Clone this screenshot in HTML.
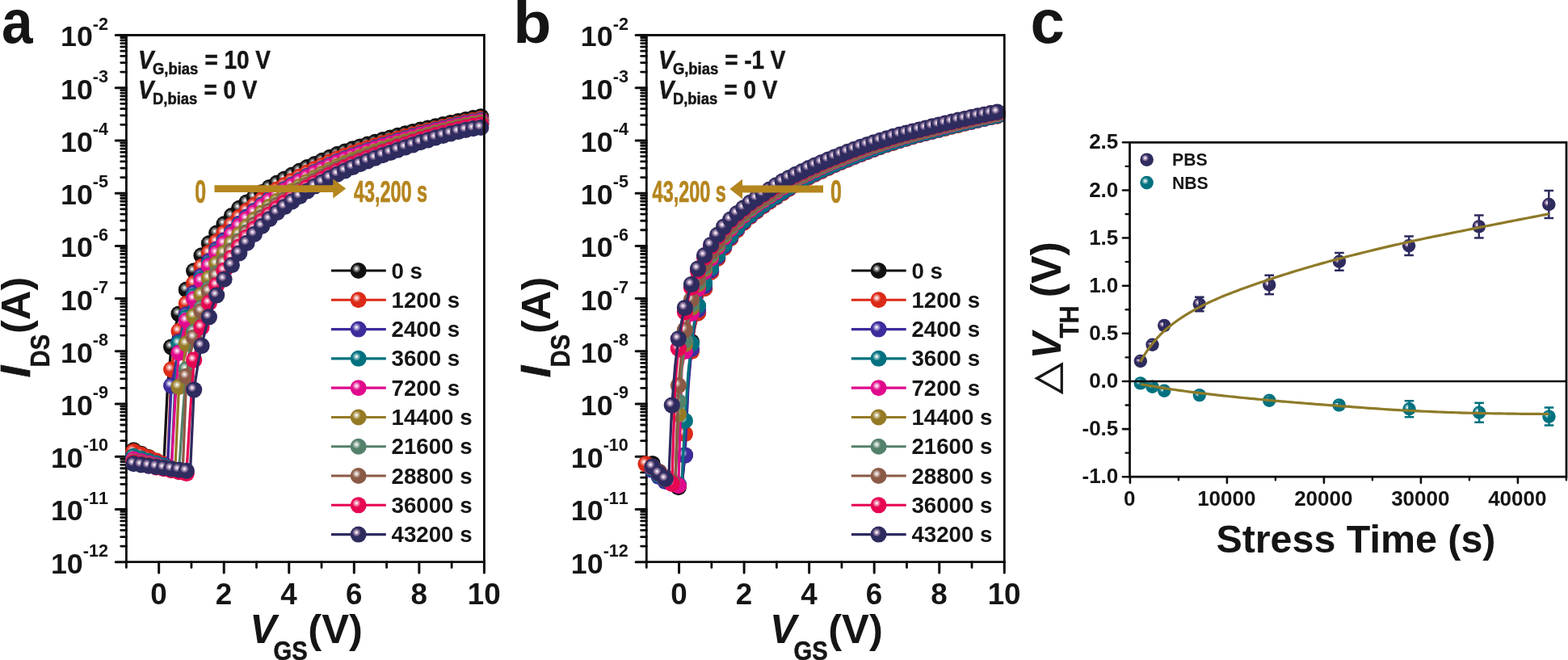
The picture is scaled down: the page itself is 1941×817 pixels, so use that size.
<!DOCTYPE html>
<html><head><meta charset="utf-8"><title>Figure</title>
<style>html,body{margin:0;padding:0;background:#fff}svg{display:block}</style></head>
<body>
<svg width="1941" height="817" viewBox="0 0 1941 817" font-family="'Liberation Sans', sans-serif" font-weight="bold">
<rect width="1941" height="817" fill="#fff"/>
<defs>
<radialGradient id="g0" cx="0.38" cy="0.375" r="0.265" fx="0.38" fy="0.375"><stop offset="0" stop-color="#fff"/><stop offset="0.12" stop-color="#eeeeee"/><stop offset="0.42" stop-color="#9b9b9b"/><stop offset="0.76" stop-color="#4c4c4c"/><stop offset="1" stop-color="#111111"/></radialGradient>
<radialGradient id="g1" cx="0.38" cy="0.375" r="0.265" fx="0.38" fy="0.375"><stop offset="0" stop-color="#fff"/><stop offset="0.12" stop-color="#fdf0ef"/><stop offset="0.42" stop-color="#f0a69e"/><stop offset="0.76" stop-color="#e55f52"/><stop offset="1" stop-color="#DC2A18"/></radialGradient>
<radialGradient id="g2" cx="0.38" cy="0.375" r="0.265" fx="0.38" fy="0.375"><stop offset="0" stop-color="#fff"/><stop offset="0.12" stop-color="#f1f0f8"/><stop offset="0.42" stop-color="#ada6d5"/><stop offset="0.76" stop-color="#6d61b5"/><stop offset="1" stop-color="#3C2C9C"/></radialGradient>
<radialGradient id="g3" cx="0.38" cy="0.375" r="0.265" fx="0.38" fy="0.375"><stop offset="0" stop-color="#fff"/><stop offset="0.12" stop-color="#edf5f6"/><stop offset="0.42" stop-color="#94c3c9"/><stop offset="0.76" stop-color="#40949f"/><stop offset="1" stop-color="#00717F"/></radialGradient>
<radialGradient id="g4" cx="0.38" cy="0.375" r="0.265" fx="0.38" fy="0.375"><stop offset="0" stop-color="#fff"/><stop offset="0.12" stop-color="#fdeef7"/><stop offset="0.42" stop-color="#f298cf"/><stop offset="0.76" stop-color="#e847a9"/><stop offset="1" stop-color="#E00A8C"/></radialGradient>
<radialGradient id="g5" cx="0.38" cy="0.375" r="0.265" fx="0.38" fy="0.375"><stop offset="0" stop-color="#fff"/><stop offset="0.12" stop-color="#f8f6f0"/><stop offset="0.42" stop-color="#d2c7a4"/><stop offset="0.76" stop-color="#b09b5c"/><stop offset="1" stop-color="#957A26"/></radialGradient>
<radialGradient id="g6" cx="0.38" cy="0.375" r="0.265" fx="0.38" fy="0.375"><stop offset="0" stop-color="#fff"/><stop offset="0.12" stop-color="#f3f6f5"/><stop offset="0.42" stop-color="#b7cac0"/><stop offset="0.76" stop-color="#7fa08f"/><stop offset="1" stop-color="#54816A"/></radialGradient>
<radialGradient id="g7" cx="0.38" cy="0.375" r="0.265" fx="0.38" fy="0.375"><stop offset="0" stop-color="#fff"/><stop offset="0.12" stop-color="#f7f3f2"/><stop offset="0.42" stop-color="#cebab1"/><stop offset="0.76" stop-color="#a88374"/><stop offset="1" stop-color="#8B5A46"/></radialGradient>
<radialGradient id="g8" cx="0.38" cy="0.375" r="0.265" fx="0.38" fy="0.375"><stop offset="0" stop-color="#fff"/><stop offset="0.12" stop-color="#fdeef3"/><stop offset="0.42" stop-color="#f496b6"/><stop offset="0.76" stop-color="#ec447d"/><stop offset="1" stop-color="#E60652"/></radialGradient>
<radialGradient id="g9" cx="0.38" cy="0.375" r="0.265" fx="0.38" fy="0.375"><stop offset="0" stop-color="#fff"/><stop offset="0.12" stop-color="#f4eef5"/><stop offset="0.42" stop-color="#b59ebd"/><stop offset="0.76" stop-color="#6c5a88"/><stop offset="1" stop-color="#2E2B5E"/></radialGradient>
<radialGradient id="g10" cx="0.38" cy="0.375" r="0.265" fx="0.38" fy="0.375"><stop offset="0" stop-color="#fff"/><stop offset="0.12" stop-color="#f4eef5"/><stop offset="0.42" stop-color="#b59ebd"/><stop offset="0.76" stop-color="#6c5a88"/><stop offset="1" stop-color="#2E2B5E"/></radialGradient>
<radialGradient id="g11" cx="0.38" cy="0.375" r="0.265" fx="0.38" fy="0.375"><stop offset="0" stop-color="#fff"/><stop offset="0.12" stop-color="#edf5f6"/><stop offset="0.42" stop-color="#94c3c9"/><stop offset="0.76" stop-color="#40949f"/><stop offset="1" stop-color="#00717F"/></radialGradient>
</defs>
<g fill="#141514">
<path d="M156.4 42.1V695.7H600.8" fill="none" stroke="#0d0d0d" stroke-width="2.8" stroke-linejoin="miter"/>
<path d="M143.2 43.5H156.4M143.2 108.72H156.4M143.2 173.94H156.4M143.2 239.16H156.4M143.2 304.38H156.4M143.2 369.6H156.4M143.2 434.82H156.4M143.2 500.04H156.4M143.2 565.26H156.4M143.2 630.48H156.4M143.2 695.7H156.4M196.67 695.7V709.1M277.22 695.7V709.1M357.76 695.7V709.1M438.31 695.7V709.1M518.85 695.7V709.1M599.4 695.7V709.1" stroke="#0d0d0d" stroke-width="3" stroke-linecap="round" fill="none"/>
<path d="M149.7 89.09H156.4M149.7 77.6H156.4M149.7 69.45H156.4M149.7 63.13H156.4M149.7 57.97H156.4M149.7 53.6H156.4M149.7 49.82H156.4M149.7 46.48H156.4M149.7 154.31H156.4M149.7 142.82H156.4M149.7 134.67H156.4M149.7 128.35H156.4M149.7 123.19H156.4M149.7 118.82H156.4M149.7 115.04H156.4M149.7 111.7H156.4M149.7 219.53H156.4M149.7 208.04H156.4M149.7 199.89H156.4M149.7 193.57H156.4M149.7 188.41H156.4M149.7 184.04H156.4M149.7 180.26H156.4M149.7 176.92H156.4M149.7 284.75H156.4M149.7 273.26H156.4M149.7 265.11H156.4M149.7 258.79H156.4M149.7 253.63H156.4M149.7 249.26H156.4M149.7 245.48H156.4M149.7 242.14H156.4M149.7 349.97H156.4M149.7 338.48H156.4M149.7 330.33H156.4M149.7 324.01H156.4M149.7 318.85H156.4M149.7 314.48H156.4M149.7 310.7H156.4M149.7 307.36H156.4M149.7 415.19H156.4M149.7 403.7H156.4M149.7 395.55H156.4M149.7 389.23H156.4M149.7 384.07H156.4M149.7 379.7H156.4M149.7 375.92H156.4M149.7 372.58H156.4M149.7 480.41H156.4M149.7 468.92H156.4M149.7 460.77H156.4M149.7 454.45H156.4M149.7 449.29H156.4M149.7 444.92H156.4M149.7 441.14H156.4M149.7 437.8H156.4M149.7 545.63H156.4M149.7 534.14H156.4M149.7 525.99H156.4M149.7 519.67H156.4M149.7 514.51H156.4M149.7 510.14H156.4M149.7 506.36H156.4M149.7 503.02H156.4M149.7 610.85H156.4M149.7 599.36H156.4M149.7 591.21H156.4M149.7 584.89H156.4M149.7 579.73H156.4M149.7 575.36H156.4M149.7 571.58H156.4M149.7 568.24H156.4M149.7 676.07H156.4M149.7 664.58H156.4M149.7 656.43H156.4M149.7 650.11H156.4M149.7 644.95H156.4M149.7 640.58H156.4M149.7 636.8H156.4M149.7 633.46H156.4M156.4 695.7V702.5M236.95 695.7V702.5M317.49 695.7V702.5M398.04 695.7V702.5M478.58 695.7V702.5M559.13 695.7V702.5" stroke="#0d0d0d" stroke-width="2.8" stroke-linecap="round" fill="none"/>
<polyline points="165.4,557.4 170.07,559.6 174.75,561.8 179.42,564 184.09,566.2 188.76,568.4 193.44,570.6 198.11,572.8 202.78,575 207.45,478 212.12,429.5 216.8,405.88 221.47,388.5 226.14,372.55 230.81,358.7 235.49,346.4 240.16,335.4 244.83,325.32 249.5,316.3 254.18,308.48 258.85,301.4 263.52,294.77 268.19,288.6 272.87,282.84 277.54,277.4 282.21,272.19 286.88,267.2 291.56,262.3 296.23,257.8 300.9,253.98 305.58,250.5 310.25,247.17 314.92,244 319.59,240.97 324.26,238 328.94,234.96 333.61,232 338.28,229.25 342.96,226.6 347.63,224.02 352.3,221.5 356.97,219.04 361.64,216.6 366.32,214.12 370.99,211.7 375.66,209.4 380.34,207.2 385.01,205.13 389.68,203.1 394.35,201 399.03,198.9 403.7,196.83 408.37,194.8 413.04,192.8 417.72,190.9 422.39,189.21 427.06,187.6 431.73,185.97 436.4,184.4 441.08,182.93 445.75,181.5 450.42,180.09 455.1,178.7 459.77,177.29 464.44,175.9 469.11,174.54 473.79,173.2 478.46,171.84 483.13,170.5 487.8,169.19 492.48,167.9 497.15,166.64 501.82,165.4 506.49,164.19 511.17,163 515.84,161.84 520.51,160.7 525.18,159.59 529.86,158.5 534.53,157.39 539.2,156.3 543.87,155.24 548.55,154.2 553.22,153.14 557.89,152.1 562.56,151.09 567.24,150.1 571.91,149.09 576.58,148.1 581.25,147.14 585.93,146.2 590.6,145.24 595.27,144.3" fill="none" stroke="#111111" stroke-width="3.3" stroke-linejoin="round"/>
<g fill="url(#g0)"><circle cx="165.4" cy="557.4" r="10.1"/><circle cx="174.75" cy="561.8" r="10.1"/><circle cx="184.09" cy="566.2" r="10.1"/><circle cx="193.44" cy="570.6" r="10.1"/><circle cx="202.78" cy="575" r="10.1"/><circle cx="212.12" cy="429.5" r="10.1"/><circle cx="221.47" cy="388.5" r="10.1"/><circle cx="230.81" cy="358.7" r="10.1"/><circle cx="240.16" cy="335.4" r="10.1"/><circle cx="249.5" cy="316.3" r="10.1"/><circle cx="258.85" cy="301.4" r="10.1"/><circle cx="268.19" cy="288.6" r="10.1"/><circle cx="277.54" cy="277.4" r="10.1"/><circle cx="286.88" cy="267.2" r="10.1"/><circle cx="296.23" cy="257.8" r="10.1"/><circle cx="305.58" cy="250.5" r="10.1"/><circle cx="314.92" cy="244" r="10.1"/><circle cx="324.26" cy="238" r="10.1"/><circle cx="333.61" cy="232" r="10.1"/><circle cx="342.96" cy="226.6" r="10.1"/><circle cx="352.3" cy="221.5" r="10.1"/><circle cx="361.64" cy="216.6" r="10.1"/><circle cx="370.99" cy="211.7" r="10.1"/><circle cx="380.34" cy="207.2" r="10.1"/><circle cx="389.68" cy="203.1" r="10.1"/><circle cx="399.03" cy="198.9" r="10.1"/><circle cx="408.37" cy="194.8" r="10.1"/><circle cx="417.72" cy="190.9" r="10.1"/><circle cx="427.06" cy="187.6" r="10.1"/><circle cx="436.4" cy="184.4" r="10.1"/><circle cx="445.75" cy="181.5" r="10.1"/><circle cx="455.1" cy="178.7" r="10.1"/><circle cx="464.44" cy="175.9" r="10.1"/><circle cx="473.79" cy="173.2" r="10.1"/><circle cx="483.13" cy="170.5" r="10.1"/><circle cx="492.48" cy="167.9" r="10.1"/><circle cx="501.82" cy="165.4" r="10.1"/><circle cx="511.17" cy="163" r="10.1"/><circle cx="520.51" cy="160.7" r="10.1"/><circle cx="529.86" cy="158.5" r="10.1"/><circle cx="539.2" cy="156.3" r="10.1"/><circle cx="548.55" cy="154.2" r="10.1"/><circle cx="557.89" cy="152.1" r="10.1"/><circle cx="567.24" cy="150.1" r="10.1"/><circle cx="576.58" cy="148.1" r="10.1"/><circle cx="585.93" cy="146.2" r="10.1"/><circle cx="595.27" cy="144.3" r="10.1"/></g>
<polyline points="165.4,558.9 170.07,560.86 174.75,562.81 179.42,564.77 184.09,566.72 188.76,568.68 193.44,570.63 198.11,572.59 202.78,574.54 207.45,576.5 212.12,457.4 216.8,429.94 221.47,409.8 226.14,391.2 230.81,375.85 235.49,362.46 240.16,350.63 244.83,339.93 249.5,330.08 254.18,321.06 258.85,313.05 263.52,305.93 268.19,299.33 272.87,293.71 277.54,288.36 282.21,283.23 286.88,278.29 291.56,273.47 296.23,268.84 300.9,264.65 305.58,260.87 310.25,257.38 314.92,254.08 319.59,250.58 324.26,247.2 328.94,243.85 333.61,240.62 338.28,237.58 342.96,234.65 347.63,231.83 352.3,229.09 356.97,226.42 361.64,223.79 366.32,221.17 370.99,218.59 375.66,216.07 380.34,213.65 385.01,211.35 389.68,209.13 394.35,206.93 399.03,204.75 403.7,202.55 408.37,200.39 413.04,198.31 417.72,196.35 422.39,194.56 427.06,192.84 431.73,191.1 436.4,189.41 441.08,187.83 445.75,186.3 450.42,184.78 455.1,183.28 459.77,181.78 464.44,180.29 469.11,178.85 473.79,177.42 478.46,176.03 483.13,174.64 487.8,173.25 492.48,171.87 497.15,170.54 501.82,169.22 506.49,167.94 511.17,166.68 515.84,165.43 520.51,164.2 525.18,163.02 529.86,161.85 534.53,160.67 539.2,159.5 543.87,158.39 548.55,157.29 553.22,156.19 557.89,155.11 562.56,154.07 567.24,153.05 571.91,152.01 576.58,151.01 581.25,150.07 585.93,149.16 590.6,148.28 595.27,147.43" fill="none" stroke="#DC2A18" stroke-width="3.3" stroke-linejoin="round"/>
<g fill="url(#g1)"><circle cx="165.4" cy="558.9" r="10.1"/><circle cx="174.75" cy="562.81" r="10.1"/><circle cx="184.09" cy="566.72" r="10.1"/><circle cx="193.44" cy="570.63" r="10.1"/><circle cx="202.78" cy="574.54" r="10.1"/><circle cx="212.12" cy="457.4" r="10.1"/><circle cx="221.47" cy="409.8" r="10.1"/><circle cx="230.81" cy="375.85" r="10.1"/><circle cx="240.16" cy="350.63" r="10.1"/><circle cx="249.5" cy="330.08" r="10.1"/><circle cx="258.85" cy="313.05" r="10.1"/><circle cx="268.19" cy="299.33" r="10.1"/><circle cx="277.54" cy="288.36" r="10.1"/><circle cx="286.88" cy="278.29" r="10.1"/><circle cx="296.23" cy="268.84" r="10.1"/><circle cx="305.58" cy="260.87" r="10.1"/><circle cx="314.92" cy="254.08" r="10.1"/><circle cx="324.26" cy="247.2" r="10.1"/><circle cx="333.61" cy="240.62" r="10.1"/><circle cx="342.96" cy="234.65" r="10.1"/><circle cx="352.3" cy="229.09" r="10.1"/><circle cx="361.64" cy="223.79" r="10.1"/><circle cx="370.99" cy="218.59" r="10.1"/><circle cx="380.34" cy="213.65" r="10.1"/><circle cx="389.68" cy="209.13" r="10.1"/><circle cx="399.03" cy="204.75" r="10.1"/><circle cx="408.37" cy="200.39" r="10.1"/><circle cx="417.72" cy="196.35" r="10.1"/><circle cx="427.06" cy="192.84" r="10.1"/><circle cx="436.4" cy="189.41" r="10.1"/><circle cx="445.75" cy="186.3" r="10.1"/><circle cx="455.1" cy="183.28" r="10.1"/><circle cx="464.44" cy="180.29" r="10.1"/><circle cx="473.79" cy="177.42" r="10.1"/><circle cx="483.13" cy="174.64" r="10.1"/><circle cx="492.48" cy="171.87" r="10.1"/><circle cx="501.82" cy="169.22" r="10.1"/><circle cx="511.17" cy="166.68" r="10.1"/><circle cx="520.51" cy="164.2" r="10.1"/><circle cx="529.86" cy="161.85" r="10.1"/><circle cx="539.2" cy="159.5" r="10.1"/><circle cx="548.55" cy="157.29" r="10.1"/><circle cx="557.89" cy="155.11" r="10.1"/><circle cx="567.24" cy="153.05" r="10.1"/><circle cx="576.58" cy="151.01" r="10.1"/><circle cx="585.93" cy="149.16" r="10.1"/><circle cx="595.27" cy="147.43" r="10.1"/></g>
<polyline points="165.4,565.6 170.07,566.92 174.75,568.24 179.42,569.57 184.09,570.89 188.76,572.21 193.44,573.53 198.11,574.86 202.78,576.18 207.45,577.5 212.12,477.4 216.8,456.47 221.47,423 226.14,404.49 230.81,389.24 235.49,375.07 240.16,362.61 244.83,351.59 249.5,341.51 254.18,332.12 258.85,323.47 263.52,315.62 268.19,308.61 272.87,302.89 277.54,297.37 282.21,292.02 286.88,286.81 291.56,281.75 296.23,276.92 300.9,272.49 305.58,268.32 310.25,264.41 314.92,260.76 319.59,256.96 324.26,253.3 328.94,249.75 333.61,246.35 338.28,243.1 342.96,240 347.63,237.01 352.3,234.13 356.97,231.32 361.64,228.57 366.32,225.84 370.99,223.16 375.66,220.5 380.34,217.92 385.01,215.48 389.68,213.13 394.35,210.87 399.03,208.64 403.7,206.34 408.37,204.1 413.04,201.94 417.72,199.9 422.39,198.01 427.06,196.19 431.73,194.34 436.4,192.55 441.08,190.87 445.75,189.25 450.42,187.64 455.1,186.05 459.77,184.46 464.44,182.9 469.11,181.37 473.79,179.88 478.46,178.44 483.13,177 487.8,175.54 492.48,174.09 497.15,172.69 501.82,171.32 506.49,169.97 511.17,168.64 515.84,167.33 520.51,166.04 525.18,164.8 529.86,163.57 534.53,162.33 539.2,161.11 543.87,159.95 548.55,158.81 553.22,157.67 557.89,156.55 562.56,155.48 567.24,154.43 571.91,153.36 576.58,152.34 581.25,151.38 585.93,150.48 590.6,149.62 595.27,148.79" fill="none" stroke="#3C2C9C" stroke-width="3.3" stroke-linejoin="round"/>
<g fill="url(#g2)"><circle cx="165.4" cy="565.6" r="10.1"/><circle cx="174.75" cy="568.24" r="10.1"/><circle cx="184.09" cy="570.89" r="10.1"/><circle cx="193.44" cy="573.53" r="10.1"/><circle cx="202.78" cy="576.18" r="10.1"/><circle cx="212.12" cy="477.4" r="10.1"/><circle cx="221.47" cy="423" r="10.1"/><circle cx="230.81" cy="389.24" r="10.1"/><circle cx="240.16" cy="362.61" r="10.1"/><circle cx="249.5" cy="341.51" r="10.1"/><circle cx="258.85" cy="323.47" r="10.1"/><circle cx="268.19" cy="308.61" r="10.1"/><circle cx="277.54" cy="297.37" r="10.1"/><circle cx="286.88" cy="286.81" r="10.1"/><circle cx="296.23" cy="276.92" r="10.1"/><circle cx="305.58" cy="268.32" r="10.1"/><circle cx="314.92" cy="260.76" r="10.1"/><circle cx="324.26" cy="253.3" r="10.1"/><circle cx="333.61" cy="246.35" r="10.1"/><circle cx="342.96" cy="240" r="10.1"/><circle cx="352.3" cy="234.13" r="10.1"/><circle cx="361.64" cy="228.57" r="10.1"/><circle cx="370.99" cy="223.16" r="10.1"/><circle cx="380.34" cy="217.92" r="10.1"/><circle cx="389.68" cy="213.13" r="10.1"/><circle cx="399.03" cy="208.64" r="10.1"/><circle cx="408.37" cy="204.1" r="10.1"/><circle cx="417.72" cy="199.9" r="10.1"/><circle cx="427.06" cy="196.19" r="10.1"/><circle cx="436.4" cy="192.55" r="10.1"/><circle cx="445.75" cy="189.25" r="10.1"/><circle cx="455.1" cy="186.05" r="10.1"/><circle cx="464.44" cy="182.9" r="10.1"/><circle cx="473.79" cy="179.88" r="10.1"/><circle cx="483.13" cy="177" r="10.1"/><circle cx="492.48" cy="174.09" r="10.1"/><circle cx="501.82" cy="171.32" r="10.1"/><circle cx="511.17" cy="168.64" r="10.1"/><circle cx="520.51" cy="166.04" r="10.1"/><circle cx="529.86" cy="163.57" r="10.1"/><circle cx="539.2" cy="161.11" r="10.1"/><circle cx="548.55" cy="158.81" r="10.1"/><circle cx="557.89" cy="156.55" r="10.1"/><circle cx="567.24" cy="154.43" r="10.1"/><circle cx="576.58" cy="152.34" r="10.1"/><circle cx="585.93" cy="150.48" r="10.1"/><circle cx="595.27" cy="148.79" r="10.1"/></g>
<polyline points="165.4,564.8 170.07,566.32 174.75,567.84 179.42,569.36 184.09,570.88 188.76,572.4 193.44,573.92 198.11,575.44 202.78,576.96 207.45,578.48 212.12,580 216.8,478 221.47,425 226.14,408.41 230.81,393.2 235.49,379.08 240.16,366.49 244.83,355.37 249.5,345.31 254.18,335.91 258.85,327.17 263.52,319.16 268.19,311.95 272.87,306.04 277.54,300.37 282.21,294.85 286.88,289.47 291.56,284.22 296.23,279.21 300.9,274.61 305.58,270.29 310.25,266.17 314.92,262.32 319.59,258.44 324.26,254.72 328.94,251.13 333.61,247.68 338.28,244.39 342.96,241.24 347.63,238.22 352.3,235.3 356.97,232.46 361.64,229.68 366.32,226.93 370.99,224.22 375.66,221.53 380.34,218.92 385.01,216.44 389.68,214.06 394.35,211.78 399.03,209.54 403.7,207.23 408.37,204.96 413.04,202.8 417.72,200.74 422.39,198.84 427.06,197.01 431.73,195.15 436.4,193.34 441.08,191.65 445.75,190.01 450.42,188.39 455.1,186.79 459.77,185.18 464.44,183.6 469.11,182.06 473.79,180.56 478.46,179.11 483.13,177.68 487.8,176.2 492.48,174.74 497.15,173.33 501.82,171.94 506.49,170.59 511.17,169.25 515.84,167.92 520.51,166.62 525.18,165.37 529.86,164.13 534.53,162.88 539.2,161.64 543.87,160.48 548.55,159.33 553.22,158.19 557.89,157.06 562.56,155.99 567.24,154.93 571.91,153.86 576.58,152.84 581.25,151.89 585.93,150.99 590.6,150.15 595.27,149.33" fill="none" stroke="#00717F" stroke-width="3.3" stroke-linejoin="round"/>
<g fill="url(#g3)"><circle cx="165.4" cy="564.8" r="10.1"/><circle cx="174.75" cy="567.84" r="10.1"/><circle cx="184.09" cy="570.88" r="10.1"/><circle cx="193.44" cy="573.92" r="10.1"/><circle cx="202.78" cy="576.96" r="10.1"/><circle cx="212.12" cy="580" r="10.1"/><circle cx="221.47" cy="425" r="10.1"/><circle cx="230.81" cy="393.2" r="10.1"/><circle cx="240.16" cy="366.49" r="10.1"/><circle cx="249.5" cy="345.31" r="10.1"/><circle cx="258.85" cy="327.17" r="10.1"/><circle cx="268.19" cy="311.95" r="10.1"/><circle cx="277.54" cy="300.37" r="10.1"/><circle cx="286.88" cy="289.47" r="10.1"/><circle cx="296.23" cy="279.21" r="10.1"/><circle cx="305.58" cy="270.29" r="10.1"/><circle cx="314.92" cy="262.32" r="10.1"/><circle cx="324.26" cy="254.72" r="10.1"/><circle cx="333.61" cy="247.68" r="10.1"/><circle cx="342.96" cy="241.24" r="10.1"/><circle cx="352.3" cy="235.3" r="10.1"/><circle cx="361.64" cy="229.68" r="10.1"/><circle cx="370.99" cy="224.22" r="10.1"/><circle cx="380.34" cy="218.92" r="10.1"/><circle cx="389.68" cy="214.06" r="10.1"/><circle cx="399.03" cy="209.54" r="10.1"/><circle cx="408.37" cy="204.96" r="10.1"/><circle cx="417.72" cy="200.74" r="10.1"/><circle cx="427.06" cy="197.01" r="10.1"/><circle cx="436.4" cy="193.34" r="10.1"/><circle cx="445.75" cy="190.01" r="10.1"/><circle cx="455.1" cy="186.79" r="10.1"/><circle cx="464.44" cy="183.6" r="10.1"/><circle cx="473.79" cy="180.56" r="10.1"/><circle cx="483.13" cy="177.68" r="10.1"/><circle cx="492.48" cy="174.74" r="10.1"/><circle cx="501.82" cy="171.94" r="10.1"/><circle cx="511.17" cy="169.25" r="10.1"/><circle cx="520.51" cy="166.62" r="10.1"/><circle cx="529.86" cy="164.13" r="10.1"/><circle cx="539.2" cy="161.64" r="10.1"/><circle cx="548.55" cy="159.33" r="10.1"/><circle cx="557.89" cy="157.06" r="10.1"/><circle cx="567.24" cy="154.93" r="10.1"/><circle cx="576.58" cy="152.84" r="10.1"/><circle cx="585.93" cy="150.99" r="10.1"/><circle cx="595.27" cy="149.33" r="10.1"/></g>
<polyline points="165.4,568.7 170.07,569.93 174.75,571.16 179.42,572.39 184.09,573.62 188.76,574.85 193.44,576.08 198.11,577.31 202.78,578.54 207.45,579.77 212.12,581 216.8,496 221.47,436.8 226.14,414.92 230.81,396.9 235.49,383.43 240.16,370.05 244.83,358.32 249.5,347.88 254.18,338.16 258.85,329.11 263.52,320.82 268.19,313.33 272.87,307.21 277.54,301.41 282.21,295.78 286.88,290.32 291.56,285 296.23,279.95 300.9,275.33 305.58,270.99 310.25,266.87 314.92,263.01 319.59,259.1 324.26,255.35 328.94,251.73 333.61,248.27 338.28,244.96 342.96,241.79 347.63,238.75 352.3,235.82 356.97,232.96 361.64,230.17 366.32,227.41 370.99,224.69 375.66,221.99 380.34,219.36 385.01,216.86 389.68,214.47 394.35,212.19 399.03,209.94 403.7,207.62 408.37,205.34 413.04,203.19 417.72,201.16 422.39,199.27 427.06,197.45 431.73,195.6 436.4,193.8 441.08,192.11 445.75,190.49 450.42,188.87 455.1,187.27 459.77,185.68 464.44,184.11 469.11,182.57 473.79,181.08 478.46,179.64 483.13,178.21 487.8,176.75 492.48,175.29 497.15,173.88 501.82,172.5 506.49,171.14 511.17,169.81 515.84,168.48 520.51,167.18 525.18,165.93 529.86,164.69 534.53,163.43 539.2,162.2 543.87,161.03 548.55,159.9 553.22,158.75 557.89,157.63 562.56,156.56 567.24,155.51 571.91,154.45 576.58,153.43 581.25,152.49 585.93,151.61 590.6,150.8 595.27,150.01" fill="none" stroke="#E00A8C" stroke-width="3.3" stroke-linejoin="round"/>
<g fill="url(#g4)"><circle cx="165.4" cy="568.7" r="10.1"/><circle cx="174.75" cy="571.16" r="10.1"/><circle cx="184.09" cy="573.62" r="10.1"/><circle cx="193.44" cy="576.08" r="10.1"/><circle cx="202.78" cy="578.54" r="10.1"/><circle cx="212.12" cy="581" r="10.1"/><circle cx="221.47" cy="436.8" r="10.1"/><circle cx="230.81" cy="396.9" r="10.1"/><circle cx="240.16" cy="370.05" r="10.1"/><circle cx="249.5" cy="347.88" r="10.1"/><circle cx="258.85" cy="329.11" r="10.1"/><circle cx="268.19" cy="313.33" r="10.1"/><circle cx="277.54" cy="301.41" r="10.1"/><circle cx="286.88" cy="290.32" r="10.1"/><circle cx="296.23" cy="279.95" r="10.1"/><circle cx="305.58" cy="270.99" r="10.1"/><circle cx="314.92" cy="263.01" r="10.1"/><circle cx="324.26" cy="255.35" r="10.1"/><circle cx="333.61" cy="248.27" r="10.1"/><circle cx="342.96" cy="241.79" r="10.1"/><circle cx="352.3" cy="235.82" r="10.1"/><circle cx="361.64" cy="230.17" r="10.1"/><circle cx="370.99" cy="224.69" r="10.1"/><circle cx="380.34" cy="219.36" r="10.1"/><circle cx="389.68" cy="214.47" r="10.1"/><circle cx="399.03" cy="209.94" r="10.1"/><circle cx="408.37" cy="205.34" r="10.1"/><circle cx="417.72" cy="201.16" r="10.1"/><circle cx="427.06" cy="197.45" r="10.1"/><circle cx="436.4" cy="193.8" r="10.1"/><circle cx="445.75" cy="190.49" r="10.1"/><circle cx="455.1" cy="187.27" r="10.1"/><circle cx="464.44" cy="184.11" r="10.1"/><circle cx="473.79" cy="181.08" r="10.1"/><circle cx="483.13" cy="178.21" r="10.1"/><circle cx="492.48" cy="175.29" r="10.1"/><circle cx="501.82" cy="172.5" r="10.1"/><circle cx="511.17" cy="169.81" r="10.1"/><circle cx="520.51" cy="167.18" r="10.1"/><circle cx="529.86" cy="164.69" r="10.1"/><circle cx="539.2" cy="162.2" r="10.1"/><circle cx="548.55" cy="159.9" r="10.1"/><circle cx="557.89" cy="157.63" r="10.1"/><circle cx="567.24" cy="155.51" r="10.1"/><circle cx="576.58" cy="153.43" r="10.1"/><circle cx="585.93" cy="151.61" r="10.1"/><circle cx="595.27" cy="150.01" r="10.1"/></g>
<polyline points="165.4,571.5 170.07,572.45 174.75,573.41 179.42,574.36 184.09,575.32 188.76,576.27 193.44,577.23 198.11,578.18 202.78,579.14 207.45,580.09 212.12,581.05 216.8,582 221.47,478.8 226.14,454.99 230.81,425.5 235.49,406.62 240.16,391.3 244.83,377.27 249.5,364.91 254.18,354.18 258.85,344.41 263.52,335.17 268.19,326.61 272.87,319.58 277.54,313.15 282.21,307.09 286.88,301.24 291.56,295.61 296.23,290.23 300.9,285.23 305.58,280.57 310.25,276.16 314.92,271.94 319.59,267.61 324.26,263.5 328.94,259.62 333.61,255.91 338.28,252.34 342.96,248.93 347.63,245.67 352.3,242.54 356.97,239.51 361.64,236.55 366.32,233.65 370.99,230.79 375.66,227.9 380.34,225.07 385.01,222.38 389.68,219.81 394.35,217.45 399.03,215.13 403.7,212.69 408.37,210.29 413.04,208.04 417.72,205.91 422.39,203.89 427.06,201.94 431.73,199.95 436.4,198.02 441.08,196.21 445.75,194.46 450.42,192.72 455.1,191.01 459.77,189.3 464.44,187.62 469.11,185.98 473.79,184.4 478.46,182.9 483.13,181.41 487.8,179.86 492.48,178.3 497.15,176.81 501.82,175.34 506.49,173.91 511.17,172.49 515.84,171.08 520.51,169.69 525.18,168.36 529.86,167.05 534.53,165.71 539.2,164.41 543.87,163.18 548.55,161.99 553.22,160.79 557.89,159.62 562.56,158.51 567.24,157.42 571.91,156.32 576.58,155.28 581.25,154.33 585.93,153.46 590.6,152.67 595.27,151.92" fill="none" stroke="#957A26" stroke-width="3.3" stroke-linejoin="round"/>
<g fill="url(#g5)"><circle cx="165.4" cy="571.5" r="10.1"/><circle cx="174.75" cy="573.41" r="10.1"/><circle cx="184.09" cy="575.32" r="10.1"/><circle cx="193.44" cy="577.23" r="10.1"/><circle cx="202.78" cy="579.14" r="10.1"/><circle cx="212.12" cy="581.05" r="10.1"/><circle cx="221.47" cy="478.8" r="10.1"/><circle cx="230.81" cy="425.5" r="10.1"/><circle cx="240.16" cy="391.3" r="10.1"/><circle cx="249.5" cy="364.91" r="10.1"/><circle cx="258.85" cy="344.41" r="10.1"/><circle cx="268.19" cy="326.61" r="10.1"/><circle cx="277.54" cy="313.15" r="10.1"/><circle cx="286.88" cy="301.24" r="10.1"/><circle cx="296.23" cy="290.23" r="10.1"/><circle cx="305.58" cy="280.57" r="10.1"/><circle cx="314.92" cy="271.94" r="10.1"/><circle cx="324.26" cy="263.5" r="10.1"/><circle cx="333.61" cy="255.91" r="10.1"/><circle cx="342.96" cy="248.93" r="10.1"/><circle cx="352.3" cy="242.54" r="10.1"/><circle cx="361.64" cy="236.55" r="10.1"/><circle cx="370.99" cy="230.79" r="10.1"/><circle cx="380.34" cy="225.07" r="10.1"/><circle cx="389.68" cy="219.81" r="10.1"/><circle cx="399.03" cy="215.13" r="10.1"/><circle cx="408.37" cy="210.29" r="10.1"/><circle cx="417.72" cy="205.91" r="10.1"/><circle cx="427.06" cy="201.94" r="10.1"/><circle cx="436.4" cy="198.02" r="10.1"/><circle cx="445.75" cy="194.46" r="10.1"/><circle cx="455.1" cy="191.01" r="10.1"/><circle cx="464.44" cy="187.62" r="10.1"/><circle cx="473.79" cy="184.4" r="10.1"/><circle cx="483.13" cy="181.41" r="10.1"/><circle cx="492.48" cy="178.3" r="10.1"/><circle cx="501.82" cy="175.34" r="10.1"/><circle cx="511.17" cy="172.49" r="10.1"/><circle cx="520.51" cy="169.69" r="10.1"/><circle cx="529.86" cy="167.05" r="10.1"/><circle cx="539.2" cy="164.41" r="10.1"/><circle cx="548.55" cy="161.99" r="10.1"/><circle cx="557.89" cy="159.62" r="10.1"/><circle cx="567.24" cy="157.42" r="10.1"/><circle cx="576.58" cy="155.28" r="10.1"/><circle cx="585.93" cy="153.46" r="10.1"/><circle cx="595.27" cy="151.92" r="10.1"/></g>
<polyline points="165.4,572 170.07,573 174.75,574 179.42,575 184.09,576 188.76,577 193.44,578 198.11,579 202.78,580 207.45,581 212.12,582 216.8,583 221.47,584 226.14,515 230.81,457.1 235.49,429.49 240.16,410.8 244.83,395.11 249.5,381.05 254.18,368.53 258.85,357.7 263.52,348.09 268.19,338.94 272.87,330.93 277.54,323.54 282.21,316.59 286.88,310.07 291.56,303.9 296.23,298.03 300.9,292.57 305.58,287.42 310.25,282.53 314.92,277.89 319.59,273.29 324.26,268.93 328.94,264.87 333.61,261.01 338.28,257.27 342.96,253.68 347.63,250.29 352.3,247.03 356.97,243.87 361.64,240.8 366.32,237.81 370.99,234.86 375.66,231.84 380.34,228.88 385.01,226.05 389.68,223.38 394.35,220.95 399.03,218.58 403.7,216.06 408.37,213.6 413.04,211.28 417.72,209.08 422.39,206.99 427.06,204.95 431.73,202.87 436.4,200.85 441.08,198.97 445.75,197.14 450.42,195.32 455.1,193.53 459.77,191.75 464.44,190.01 469.11,188.3 473.79,186.66 478.46,185.12 483.13,183.6 487.8,181.98 492.48,180.36 497.15,178.81 501.82,177.3 506.49,175.81 511.17,174.34 515.84,172.87 520.51,171.43 525.18,170.04 529.86,168.68 534.53,167.3 539.2,165.94 543.87,164.68 548.55,163.45 553.22,162.22 557.89,161.02 562.56,159.88 567.24,158.77 571.91,157.65 576.58,156.58 581.25,155.63 585.93,154.77 590.6,154 595.27,153.28" fill="none" stroke="#54816A" stroke-width="3.3" stroke-linejoin="round"/>
<g fill="url(#g6)"><circle cx="165.4" cy="572" r="10.1"/><circle cx="174.75" cy="574" r="10.1"/><circle cx="184.09" cy="576" r="10.1"/><circle cx="193.44" cy="578" r="10.1"/><circle cx="202.78" cy="580" r="10.1"/><circle cx="212.12" cy="582" r="10.1"/><circle cx="221.47" cy="584" r="10.1"/><circle cx="230.81" cy="457.1" r="10.1"/><circle cx="240.16" cy="410.8" r="10.1"/><circle cx="249.5" cy="381.05" r="10.1"/><circle cx="258.85" cy="357.7" r="10.1"/><circle cx="268.19" cy="338.94" r="10.1"/><circle cx="277.54" cy="323.54" r="10.1"/><circle cx="286.88" cy="310.07" r="10.1"/><circle cx="296.23" cy="298.03" r="10.1"/><circle cx="305.58" cy="287.42" r="10.1"/><circle cx="314.92" cy="277.89" r="10.1"/><circle cx="324.26" cy="268.93" r="10.1"/><circle cx="333.61" cy="261.01" r="10.1"/><circle cx="342.96" cy="253.68" r="10.1"/><circle cx="352.3" cy="247.03" r="10.1"/><circle cx="361.64" cy="240.8" r="10.1"/><circle cx="370.99" cy="234.86" r="10.1"/><circle cx="380.34" cy="228.88" r="10.1"/><circle cx="389.68" cy="223.38" r="10.1"/><circle cx="399.03" cy="218.58" r="10.1"/><circle cx="408.37" cy="213.6" r="10.1"/><circle cx="417.72" cy="209.08" r="10.1"/><circle cx="427.06" cy="204.95" r="10.1"/><circle cx="436.4" cy="200.85" r="10.1"/><circle cx="445.75" cy="197.14" r="10.1"/><circle cx="455.1" cy="193.53" r="10.1"/><circle cx="464.44" cy="190.01" r="10.1"/><circle cx="473.79" cy="186.66" r="10.1"/><circle cx="483.13" cy="183.6" r="10.1"/><circle cx="492.48" cy="180.36" r="10.1"/><circle cx="501.82" cy="177.3" r="10.1"/><circle cx="511.17" cy="174.34" r="10.1"/><circle cx="520.51" cy="171.43" r="10.1"/><circle cx="529.86" cy="168.68" r="10.1"/><circle cx="539.2" cy="165.94" r="10.1"/><circle cx="548.55" cy="163.45" r="10.1"/><circle cx="557.89" cy="161.02" r="10.1"/><circle cx="567.24" cy="158.77" r="10.1"/><circle cx="576.58" cy="156.58" r="10.1"/><circle cx="585.93" cy="154.77" r="10.1"/><circle cx="595.27" cy="153.28" r="10.1"/></g>
<polyline points="165.4,572.3 170.07,573.24 174.75,574.18 179.42,575.12 184.09,576.05 188.76,576.99 193.44,577.93 198.11,578.87 202.78,579.81 207.45,580.75 212.12,581.68 216.8,582.62 221.47,583.56 226.14,584.5 230.81,465.9 235.49,438.74 240.16,417.7 244.83,399.99 249.5,385.2 254.18,372.14 258.85,360.71 263.52,350.79 268.19,341.47 272.87,333.11 277.54,325.39 282.21,318.18 286.88,311.44 291.56,305.11 296.23,299.11 300.9,293.54 305.58,288.3 310.25,283.33 314.92,278.62 319.59,273.99 324.26,269.6 328.94,265.52 333.61,261.64 338.28,257.87 342.96,254.27 347.63,250.86 352.3,247.58 356.97,244.41 361.64,241.32 366.32,238.33 370.99,235.36 375.66,232.33 380.34,229.35 385.01,226.5 389.68,223.81 394.35,221.38 399.03,219.01 403.7,216.48 408.37,214 413.04,211.68 417.72,209.48 422.39,207.38 427.06,205.34 431.73,203.26 436.4,201.23 441.08,199.34 445.75,197.5 450.42,195.68 455.1,193.88 459.77,192.1 464.44,190.34 469.11,188.63 473.79,186.99 478.46,185.45 483.13,183.92 487.8,182.3 492.48,180.68 497.15,179.12 501.82,177.61 506.49,176.12 511.17,174.64 515.84,173.16 520.51,171.71 525.18,170.32 529.86,168.96 534.53,167.57 539.2,166.21 543.87,164.94 548.55,163.71 553.22,162.48 557.89,161.28 562.56,160.13 567.24,159.02 571.91,157.9 576.58,156.83 581.25,155.88 585.93,155.02 590.6,154.26 595.27,153.55" fill="none" stroke="#8B5A46" stroke-width="3.3" stroke-linejoin="round"/>
<g fill="url(#g7)"><circle cx="165.4" cy="572.3" r="10.1"/><circle cx="174.75" cy="574.18" r="10.1"/><circle cx="184.09" cy="576.05" r="10.1"/><circle cx="193.44" cy="577.93" r="10.1"/><circle cx="202.78" cy="579.81" r="10.1"/><circle cx="212.12" cy="581.68" r="10.1"/><circle cx="221.47" cy="583.56" r="10.1"/><circle cx="230.81" cy="465.9" r="10.1"/><circle cx="240.16" cy="417.7" r="10.1"/><circle cx="249.5" cy="385.2" r="10.1"/><circle cx="258.85" cy="360.71" r="10.1"/><circle cx="268.19" cy="341.47" r="10.1"/><circle cx="277.54" cy="325.39" r="10.1"/><circle cx="286.88" cy="311.44" r="10.1"/><circle cx="296.23" cy="299.11" r="10.1"/><circle cx="305.58" cy="288.3" r="10.1"/><circle cx="314.92" cy="278.62" r="10.1"/><circle cx="324.26" cy="269.6" r="10.1"/><circle cx="333.61" cy="261.64" r="10.1"/><circle cx="342.96" cy="254.27" r="10.1"/><circle cx="352.3" cy="247.58" r="10.1"/><circle cx="361.64" cy="241.32" r="10.1"/><circle cx="370.99" cy="235.36" r="10.1"/><circle cx="380.34" cy="229.35" r="10.1"/><circle cx="389.68" cy="223.81" r="10.1"/><circle cx="399.03" cy="219.01" r="10.1"/><circle cx="408.37" cy="214" r="10.1"/><circle cx="417.72" cy="209.48" r="10.1"/><circle cx="427.06" cy="205.34" r="10.1"/><circle cx="436.4" cy="201.23" r="10.1"/><circle cx="445.75" cy="197.5" r="10.1"/><circle cx="455.1" cy="193.88" r="10.1"/><circle cx="464.44" cy="190.34" r="10.1"/><circle cx="473.79" cy="186.99" r="10.1"/><circle cx="483.13" cy="183.92" r="10.1"/><circle cx="492.48" cy="180.68" r="10.1"/><circle cx="501.82" cy="177.61" r="10.1"/><circle cx="511.17" cy="174.64" r="10.1"/><circle cx="520.51" cy="171.71" r="10.1"/><circle cx="529.86" cy="168.96" r="10.1"/><circle cx="539.2" cy="166.21" r="10.1"/><circle cx="548.55" cy="163.71" r="10.1"/><circle cx="557.89" cy="161.28" r="10.1"/><circle cx="567.24" cy="159.02" r="10.1"/><circle cx="576.58" cy="156.83" r="10.1"/><circle cx="585.93" cy="155.02" r="10.1"/><circle cx="595.27" cy="153.55" r="10.1"/></g>
<polyline points="165.4,572.5 170.07,573.46 174.75,574.43 179.42,575.39 184.09,576.36 188.76,577.32 193.44,578.29 198.11,579.25 202.78,580.21 207.45,581.18 212.12,582.14 216.8,583.11 221.47,584.07 226.14,585.04 230.81,586 235.49,510 240.16,445.7 244.83,421.74 249.5,405 254.18,388.7 258.85,374.98 263.52,363.12 268.19,353.02 272.87,343.79 277.54,334.94 282.21,326.67 286.88,319.01 291.56,311.92 296.23,305.36 300.9,299.27 305.58,293.58 310.25,288.21 314.92,283.11 319.59,278.27 324.26,273.7 328.94,269.48 333.61,265.48 338.28,261.58 342.96,257.86 347.63,254.34 352.3,250.96 356.97,247.69 361.64,244.53 366.32,241.46 370.99,238.43 375.66,235.3 380.34,232.22 385.01,229.27 389.68,226.5 394.35,224.03 399.03,221.62 403.7,219.03 408.37,216.49 413.04,214.12 417.72,211.87 422.39,209.71 427.06,207.59 431.73,205.44 436.4,203.35 441.08,201.39 445.75,199.5 450.42,197.61 455.1,195.76 459.77,193.92 464.44,192.11 469.11,190.35 473.79,188.65 478.46,187.08 483.13,185.53 487.8,183.86 492.48,182.19 497.15,180.59 501.82,179.03 506.49,177.5 511.17,175.99 515.84,174.46 520.51,172.97 525.18,171.54 529.86,170.14 534.53,168.71 539.2,167.31 543.87,166.01 548.55,164.75 553.22,163.5 557.89,162.27 562.56,161.11 567.24,159.98 571.91,158.83 576.58,157.76 581.25,156.8 585.93,155.94 590.6,155.2 595.27,154.5" fill="none" stroke="#E60652" stroke-width="3.3" stroke-linejoin="round"/>
<g fill="url(#g8)"><circle cx="165.4" cy="572.5" r="10.1"/><circle cx="174.75" cy="574.43" r="10.1"/><circle cx="184.09" cy="576.36" r="10.1"/><circle cx="193.44" cy="578.29" r="10.1"/><circle cx="202.78" cy="580.21" r="10.1"/><circle cx="212.12" cy="582.14" r="10.1"/><circle cx="221.47" cy="584.07" r="10.1"/><circle cx="230.81" cy="586" r="10.1"/><circle cx="240.16" cy="445.7" r="10.1"/><circle cx="249.5" cy="405" r="10.1"/><circle cx="258.85" cy="374.98" r="10.1"/><circle cx="268.19" cy="353.02" r="10.1"/><circle cx="277.54" cy="334.94" r="10.1"/><circle cx="286.88" cy="319.01" r="10.1"/><circle cx="296.23" cy="305.36" r="10.1"/><circle cx="305.58" cy="293.58" r="10.1"/><circle cx="314.92" cy="283.11" r="10.1"/><circle cx="324.26" cy="273.7" r="10.1"/><circle cx="333.61" cy="265.48" r="10.1"/><circle cx="342.96" cy="257.86" r="10.1"/><circle cx="352.3" cy="250.96" r="10.1"/><circle cx="361.64" cy="244.53" r="10.1"/><circle cx="370.99" cy="238.43" r="10.1"/><circle cx="380.34" cy="232.22" r="10.1"/><circle cx="389.68" cy="226.5" r="10.1"/><circle cx="399.03" cy="221.62" r="10.1"/><circle cx="408.37" cy="216.49" r="10.1"/><circle cx="417.72" cy="211.87" r="10.1"/><circle cx="427.06" cy="207.59" r="10.1"/><circle cx="436.4" cy="203.35" r="10.1"/><circle cx="445.75" cy="199.5" r="10.1"/><circle cx="455.1" cy="195.76" r="10.1"/><circle cx="464.44" cy="192.11" r="10.1"/><circle cx="473.79" cy="188.65" r="10.1"/><circle cx="483.13" cy="185.53" r="10.1"/><circle cx="492.48" cy="182.19" r="10.1"/><circle cx="501.82" cy="179.03" r="10.1"/><circle cx="511.17" cy="175.99" r="10.1"/><circle cx="520.51" cy="172.97" r="10.1"/><circle cx="529.86" cy="170.14" r="10.1"/><circle cx="539.2" cy="167.31" r="10.1"/><circle cx="548.55" cy="164.75" r="10.1"/><circle cx="557.89" cy="162.27" r="10.1"/><circle cx="567.24" cy="159.98" r="10.1"/><circle cx="576.58" cy="157.76" r="10.1"/><circle cx="585.93" cy="155.94" r="10.1"/><circle cx="595.27" cy="154.5" r="10.1"/></g>
<polyline points="165.4,574.1 170.07,574.73 174.75,575.35 179.42,575.98 184.09,576.61 188.76,577.23 193.44,577.86 198.11,578.49 202.78,579.11 207.45,579.74 212.12,580.37 216.8,580.99 221.47,581.62 226.14,582.25 230.81,582.87 235.49,583.5 240.16,482.5 244.83,452.12 249.5,428 254.18,408.65 258.85,392.4 263.52,377.97 268.19,365.5 272.87,355.08 277.54,345.7 282.21,336.58 286.88,328.1 291.56,320.38 296.23,313.3 300.9,306.82 305.58,300.8 310.25,295.15 314.92,289.8 319.59,284.65 324.26,279.8 328.94,275.38 333.61,271.2 338.28,267.11 342.96,263.2 347.63,259.52 352.3,256 356.97,252.59 361.64,249.3 366.32,246.14 370.99,243 375.66,239.73 380.34,236.5 385.01,233.4 389.68,230.5 394.35,227.96 399.03,225.5 403.7,222.82 408.37,220.2 413.04,217.84 417.72,215.6 422.39,213.43 427.06,211.3 431.73,209.12 436.4,207 441.08,205.02 445.75,203.1 450.42,201.19 455.1,199.3 459.77,197.43 464.44,195.6 469.11,193.81 473.79,192.1 478.46,190.54 483.13,189 487.8,187.31 492.48,185.6 497.15,183.98 501.82,182.4 506.49,180.84 511.17,179.3 515.84,177.74 520.51,176.2 525.18,174.74 529.86,173.3 534.53,171.83 539.2,170.4 543.87,169.08 548.55,167.8 553.22,166.53 557.89,165.3 562.56,164.13 567.24,163 571.91,161.86 576.58,160.8 581.25,159.89 585.93,159.1 590.6,158.47 595.27,157.9" fill="none" stroke="#2E2B5E" stroke-width="3.3" stroke-linejoin="round"/>
<g fill="url(#g9)"><circle cx="165.4" cy="574.1" r="10.1"/><circle cx="174.75" cy="575.35" r="10.1"/><circle cx="184.09" cy="576.61" r="10.1"/><circle cx="193.44" cy="577.86" r="10.1"/><circle cx="202.78" cy="579.11" r="10.1"/><circle cx="212.12" cy="580.37" r="10.1"/><circle cx="221.47" cy="581.62" r="10.1"/><circle cx="230.81" cy="582.87" r="10.1"/><circle cx="240.16" cy="482.5" r="10.1"/><circle cx="249.5" cy="428" r="10.1"/><circle cx="258.85" cy="392.4" r="10.1"/><circle cx="268.19" cy="365.5" r="10.1"/><circle cx="277.54" cy="345.7" r="10.1"/><circle cx="286.88" cy="328.1" r="10.1"/><circle cx="296.23" cy="313.3" r="10.1"/><circle cx="305.58" cy="300.8" r="10.1"/><circle cx="314.92" cy="289.8" r="10.1"/><circle cx="324.26" cy="279.8" r="10.1"/><circle cx="333.61" cy="271.2" r="10.1"/><circle cx="342.96" cy="263.2" r="10.1"/><circle cx="352.3" cy="256" r="10.1"/><circle cx="361.64" cy="249.3" r="10.1"/><circle cx="370.99" cy="243" r="10.1"/><circle cx="380.34" cy="236.5" r="10.1"/><circle cx="389.68" cy="230.5" r="10.1"/><circle cx="399.03" cy="225.5" r="10.1"/><circle cx="408.37" cy="220.2" r="10.1"/><circle cx="417.72" cy="215.6" r="10.1"/><circle cx="427.06" cy="211.3" r="10.1"/><circle cx="436.4" cy="207" r="10.1"/><circle cx="445.75" cy="203.1" r="10.1"/><circle cx="455.1" cy="199.3" r="10.1"/><circle cx="464.44" cy="195.6" r="10.1"/><circle cx="473.79" cy="192.1" r="10.1"/><circle cx="483.13" cy="189" r="10.1"/><circle cx="492.48" cy="185.6" r="10.1"/><circle cx="501.82" cy="182.4" r="10.1"/><circle cx="511.17" cy="179.3" r="10.1"/><circle cx="520.51" cy="176.2" r="10.1"/><circle cx="529.86" cy="173.3" r="10.1"/><circle cx="539.2" cy="170.4" r="10.1"/><circle cx="548.55" cy="167.8" r="10.1"/><circle cx="557.89" cy="165.3" r="10.1"/><circle cx="567.24" cy="163" r="10.1"/><circle cx="576.58" cy="160.8" r="10.1"/><circle cx="585.93" cy="159.1" r="10.1"/><circle cx="595.27" cy="157.9" r="10.1"/></g>
<path d="M155 43.5H599.4V697.1" fill="none" stroke="#0d0d0d" stroke-width="2.8" stroke-linejoin="miter"/>
<text x="134" y="57.4" font-size="35.8" text-anchor="end" style="font-kerning:none">10<tspan font-size="21.6" dy="-20.7">-2</tspan></text>
<text x="134" y="122.62" font-size="35.8" text-anchor="end" style="font-kerning:none">10<tspan font-size="21.6" dy="-20.7">-3</tspan></text>
<text x="134" y="187.84" font-size="35.8" text-anchor="end" style="font-kerning:none">10<tspan font-size="21.6" dy="-20.7">-4</tspan></text>
<text x="134" y="253.06" font-size="35.8" text-anchor="end" style="font-kerning:none">10<tspan font-size="21.6" dy="-20.7">-5</tspan></text>
<text x="134" y="318.28" font-size="35.8" text-anchor="end" style="font-kerning:none">10<tspan font-size="21.6" dy="-20.7">-6</tspan></text>
<text x="134" y="383.5" font-size="35.8" text-anchor="end" style="font-kerning:none">10<tspan font-size="21.6" dy="-20.7">-7</tspan></text>
<text x="134" y="448.72" font-size="35.8" text-anchor="end" style="font-kerning:none">10<tspan font-size="21.6" dy="-20.7">-8</tspan></text>
<text x="134" y="513.94" font-size="35.8" text-anchor="end" style="font-kerning:none">10<tspan font-size="21.6" dy="-20.7">-9</tspan></text>
<text x="134" y="579.16" font-size="35.8" text-anchor="end" style="font-kerning:none">10<tspan font-size="21.6" dy="-20.7">-10</tspan></text>
<text x="134" y="644.38" font-size="35.8" text-anchor="end" style="font-kerning:none">10<tspan font-size="21.6" dy="-20.7">-11</tspan></text>
<text x="134" y="709.6" font-size="35.8" text-anchor="end" style="font-kerning:none">10<tspan font-size="21.6" dy="-20.7">-12</tspan></text>
<text x="196.47" y="747.7" font-size="36.8" text-anchor="middle">0</text>
<text x="277.02" y="747.7" font-size="36.8" text-anchor="middle">2</text>
<text x="357.56" y="747.7" font-size="36.8" text-anchor="middle">4</text>
<text x="438.11" y="747.7" font-size="36.8" text-anchor="middle">6</text>
<text x="518.65" y="747.7" font-size="36.8" text-anchor="middle">8</text>
<text x="599.2" y="747.7" font-size="36.8" text-anchor="middle">10</text>
<text x="309.2" y="795.9" font-size="49.5" font-style="italic">V</text>
<text transform="translate(338.6 816.9) scale(0.885 1)" font-size="33" stroke="#141514" stroke-width="0.5">GS</text>
<text x="381.3" y="796.3" font-size="50.8">(V)</text>
<text transform="translate(37 467.3) rotate(-90)" font-size="52" font-style="italic" stroke="#141514" stroke-width="0.7">I</text>
<text transform="translate(60.6 454.4) rotate(-90) scale(0.885 1)" font-size="33" stroke="#141514" stroke-width="0.5">DS</text>
<text transform="translate(36.6 413) rotate(-90)" font-size="50.6">(A)</text>
<text transform="translate(1.9 53.2) scale(0.95 1.03)" font-size="73">a</text>
<text transform="translate(171 85) scale(0.92 1)" font-size="31.5" stroke="#141514" stroke-width="0.5" font-style="italic">V</text>
<text transform="translate(189 91.6) scale(0.95 1)" font-size="19.4" stroke="#141514" stroke-width="0.5">G,bias</text>
<text transform="translate(253.4 85) scale(0.885 1)" font-size="31.5" stroke="#141514" stroke-width="0.5">= 10 V</text>
<text transform="translate(171 122.2) scale(0.92 1)" font-size="31.5" stroke="#141514" stroke-width="0.5" font-style="italic">V</text>
<text transform="translate(189 129) scale(0.95 1)" font-size="19.4" stroke="#141514" stroke-width="0.5">D,bias</text>
<text transform="translate(252.5 122.2) scale(0.885 1)" font-size="31.5" stroke="#141514" stroke-width="0.5">= 0 V</text>
<path d="M410 335H477.8" stroke="#111111" stroke-width="3.1"/>
<circle cx="443.7" cy="335" r="10" fill="url(#g0)"/>
<text x="484.5" y="344.6" font-size="27.7">0 s</text>
<path d="M410 371.29H477.8" stroke="#DC2A18" stroke-width="3.1"/>
<circle cx="443.7" cy="371.29" r="10" fill="url(#g1)"/>
<text x="484.5" y="380.89" font-size="27.7">1200 s</text>
<path d="M410 407.58H477.8" stroke="#3C2C9C" stroke-width="3.1"/>
<circle cx="443.7" cy="407.58" r="10" fill="url(#g2)"/>
<text x="484.5" y="417.18" font-size="27.7">2400 s</text>
<path d="M410 443.87H477.8" stroke="#00717F" stroke-width="3.1"/>
<circle cx="443.7" cy="443.87" r="10" fill="url(#g3)"/>
<text x="484.5" y="453.47" font-size="27.7">3600 s</text>
<path d="M410 480.16H477.8" stroke="#E00A8C" stroke-width="3.1"/>
<circle cx="443.7" cy="480.16" r="10" fill="url(#g4)"/>
<text x="484.5" y="489.76" font-size="27.7">7200 s</text>
<path d="M410 516.45H477.8" stroke="#957A26" stroke-width="3.1"/>
<circle cx="443.7" cy="516.45" r="10" fill="url(#g5)"/>
<text x="484.5" y="526.05" font-size="27.7">14400 s</text>
<path d="M410 552.74H477.8" stroke="#54816A" stroke-width="3.1"/>
<circle cx="443.7" cy="552.74" r="10" fill="url(#g6)"/>
<text x="484.5" y="562.34" font-size="27.7">21600 s</text>
<path d="M410 589.03H477.8" stroke="#8B5A46" stroke-width="3.1"/>
<circle cx="443.7" cy="589.03" r="10" fill="url(#g7)"/>
<text x="484.5" y="598.63" font-size="27.7">28800 s</text>
<path d="M410 625.32H477.8" stroke="#E60652" stroke-width="3.1"/>
<circle cx="443.7" cy="625.32" r="10" fill="url(#g8)"/>
<text x="484.5" y="634.92" font-size="27.7">36000 s</text>
<path d="M410 661.61H477.8" stroke="#2E2B5E" stroke-width="3.1"/>
<circle cx="443.7" cy="661.61" r="10" fill="url(#g9)"/>
<text x="484.5" y="671.21" font-size="27.7">43200 s</text>
<path d="M265.5 229.2H412.3V221.5L428.2 233.5L412.3 245.6V237.9H265.5Z" fill="#B5851E"/>
<text transform="translate(241.3 250.8) scale(0.6 1)" font-size="41.5" fill="#B5851E" stroke="#B5851E" stroke-width="0.7">0</text>
<text transform="translate(437.9 249.5) scale(0.637 1)" font-size="36.8" fill="#B5851E" stroke="#B5851E" stroke-width="0.7">43,200 s</text>
<path d="M800.3 42.1V695.7H1244.7" fill="none" stroke="#0d0d0d" stroke-width="2.8" stroke-linejoin="miter"/>
<path d="M787.1 43.5H800.3M787.1 108.72H800.3M787.1 173.94H800.3M787.1 239.16H800.3M787.1 304.38H800.3M787.1 369.6H800.3M787.1 434.82H800.3M787.1 500.04H800.3M787.1 565.26H800.3M787.1 630.48H800.3M787.1 695.7H800.3M840.57 695.7V709.1M921.12 695.7V709.1M1001.66 695.7V709.1M1082.21 695.7V709.1M1162.75 695.7V709.1M1243.3 695.7V709.1" stroke="#0d0d0d" stroke-width="3" stroke-linecap="round" fill="none"/>
<path d="M793.6 89.09H800.3M793.6 77.6H800.3M793.6 69.45H800.3M793.6 63.13H800.3M793.6 57.97H800.3M793.6 53.6H800.3M793.6 49.82H800.3M793.6 46.48H800.3M793.6 154.31H800.3M793.6 142.82H800.3M793.6 134.67H800.3M793.6 128.35H800.3M793.6 123.19H800.3M793.6 118.82H800.3M793.6 115.04H800.3M793.6 111.7H800.3M793.6 219.53H800.3M793.6 208.04H800.3M793.6 199.89H800.3M793.6 193.57H800.3M793.6 188.41H800.3M793.6 184.04H800.3M793.6 180.26H800.3M793.6 176.92H800.3M793.6 284.75H800.3M793.6 273.26H800.3M793.6 265.11H800.3M793.6 258.79H800.3M793.6 253.63H800.3M793.6 249.26H800.3M793.6 245.48H800.3M793.6 242.14H800.3M793.6 349.97H800.3M793.6 338.48H800.3M793.6 330.33H800.3M793.6 324.01H800.3M793.6 318.85H800.3M793.6 314.48H800.3M793.6 310.7H800.3M793.6 307.36H800.3M793.6 415.19H800.3M793.6 403.7H800.3M793.6 395.55H800.3M793.6 389.23H800.3M793.6 384.07H800.3M793.6 379.7H800.3M793.6 375.92H800.3M793.6 372.58H800.3M793.6 480.41H800.3M793.6 468.92H800.3M793.6 460.77H800.3M793.6 454.45H800.3M793.6 449.29H800.3M793.6 444.92H800.3M793.6 441.14H800.3M793.6 437.8H800.3M793.6 545.63H800.3M793.6 534.14H800.3M793.6 525.99H800.3M793.6 519.67H800.3M793.6 514.51H800.3M793.6 510.14H800.3M793.6 506.36H800.3M793.6 503.02H800.3M793.6 610.85H800.3M793.6 599.36H800.3M793.6 591.21H800.3M793.6 584.89H800.3M793.6 579.73H800.3M793.6 575.36H800.3M793.6 571.58H800.3M793.6 568.24H800.3M793.6 676.07H800.3M793.6 664.58H800.3M793.6 656.43H800.3M793.6 650.11H800.3M793.6 644.95H800.3M793.6 640.58H800.3M793.6 636.8H800.3M793.6 633.46H800.3M800.3 695.7V702.5M880.85 695.7V702.5M961.39 695.7V702.5M1041.94 695.7V702.5M1122.48 695.7V702.5M1203.03 695.7V702.5" stroke="#0d0d0d" stroke-width="2.8" stroke-linecap="round" fill="none"/>
<polyline points="807.6,574 811.63,579 815.65,584 819.68,587.5 823.71,591 827.74,594 831.76,597 835.79,600.1 839.82,603.2 843.85,603.5 847.88,563.5 851.9,470 855.93,423 859.96,404.81 863.99,387.33 868.01,371.43 872.04,357.23 876.07,345.92 880.1,336.67 884.12,328.01 888.15,319.93 892.18,312.75 896.21,306.51 900.23,300.63 904.26,294.91 908.29,289.57 912.32,284.61 916.34,280 920.37,275.7 924.4,271.73 928.42,268.09 932.45,264.7 936.48,261.44 940.51,258.31 944.54,255.19 948.56,252.14 952.59,249.3 956.62,246.69 960.64,244.09 964.67,241.5 968.7,238.84 972.73,236.12 976.75,233.45 980.78,230.83 984.81,228.3 988.84,225.88 992.87,223.57 996.89,221.4 1000.92,219.31 1004.95,217.28 1008.98,215.33 1013,213.47 1017.03,211.6 1021.06,209.66 1025.09,207.77 1029.11,205.94 1033.14,204.15 1037.17,202.42 1041.19,200.72 1045.22,199.04 1049.25,197.39 1053.28,195.76 1057.31,194.15 1061.33,192.57 1065.36,191 1069.39,189.42 1073.41,187.86 1077.44,186.32 1081.47,184.81 1085.5,183.37 1089.53,181.96 1093.55,180.57 1097.58,179.2 1101.61,177.86 1105.63,176.54 1109.66,175.25 1113.69,173.98 1117.72,172.73 1121.74,171.51 1125.77,170.32 1129.8,169.14 1133.83,167.96 1137.86,166.8 1141.88,165.71 1145.91,164.66 1149.94,163.64 1153.97,162.63 1157.99,161.62 1162.02,160.61 1166.05,159.6 1170.08,158.58 1174.1,157.52 1178.13,156.46 1182.16,155.49 1186.18,154.53 1190.21,153.51 1194.24,152.51 1198.27,151.6 1202.3,150.68 1206.32,149.66 1210.35,148.66 1214.38,147.8 1218.4,146.94 1222.43,145.97 1226.46,145.02 1230.49,144.14 1234.51,143.31" fill="none" stroke="#111111" stroke-width="3.3" stroke-linejoin="round"/>
<g fill="url(#g0)"><circle cx="807.6" cy="574" r="10.1"/><circle cx="815.65" cy="584" r="10.1"/><circle cx="823.71" cy="591" r="10.1"/><circle cx="831.76" cy="597" r="10.1"/><circle cx="839.82" cy="603.2" r="10.1"/><circle cx="847.88" cy="563.5" r="10.1"/><circle cx="855.93" cy="423" r="10.1"/><circle cx="863.99" cy="387.33" r="10.1"/><circle cx="872.04" cy="357.23" r="10.1"/><circle cx="880.1" cy="336.67" r="10.1"/><circle cx="888.15" cy="319.93" r="10.1"/><circle cx="896.21" cy="306.51" r="10.1"/><circle cx="904.26" cy="294.91" r="10.1"/><circle cx="912.32" cy="284.61" r="10.1"/><circle cx="920.37" cy="275.7" r="10.1"/><circle cx="928.42" cy="268.09" r="10.1"/><circle cx="936.48" cy="261.44" r="10.1"/><circle cx="944.54" cy="255.19" r="10.1"/><circle cx="952.59" cy="249.3" r="10.1"/><circle cx="960.64" cy="244.09" r="10.1"/><circle cx="968.7" cy="238.84" r="10.1"/><circle cx="976.75" cy="233.45" r="10.1"/><circle cx="984.81" cy="228.3" r="10.1"/><circle cx="992.87" cy="223.57" r="10.1"/><circle cx="1000.92" cy="219.31" r="10.1"/><circle cx="1008.98" cy="215.33" r="10.1"/><circle cx="1017.03" cy="211.6" r="10.1"/><circle cx="1025.09" cy="207.77" r="10.1"/><circle cx="1033.14" cy="204.15" r="10.1"/><circle cx="1041.19" cy="200.72" r="10.1"/><circle cx="1049.25" cy="197.39" r="10.1"/><circle cx="1057.31" cy="194.15" r="10.1"/><circle cx="1065.36" cy="191" r="10.1"/><circle cx="1073.41" cy="187.86" r="10.1"/><circle cx="1081.47" cy="184.81" r="10.1"/><circle cx="1089.53" cy="181.96" r="10.1"/><circle cx="1097.58" cy="179.2" r="10.1"/><circle cx="1105.63" cy="176.54" r="10.1"/><circle cx="1113.69" cy="173.98" r="10.1"/><circle cx="1121.74" cy="171.51" r="10.1"/><circle cx="1129.8" cy="169.14" r="10.1"/><circle cx="1137.86" cy="166.8" r="10.1"/><circle cx="1145.91" cy="164.66" r="10.1"/><circle cx="1153.97" cy="162.63" r="10.1"/><circle cx="1162.02" cy="160.61" r="10.1"/><circle cx="1170.08" cy="158.58" r="10.1"/><circle cx="1178.13" cy="156.46" r="10.1"/><circle cx="1186.18" cy="154.53" r="10.1"/><circle cx="1194.24" cy="152.51" r="10.1"/><circle cx="1202.3" cy="150.68" r="10.1"/><circle cx="1210.35" cy="148.66" r="10.1"/><circle cx="1218.4" cy="146.94" r="10.1"/><circle cx="1226.46" cy="145.02" r="10.1"/><circle cx="1234.51" cy="143.31" r="10.1"/></g>
<polyline points="799.55,574.3 803.57,576.65 807.6,579 811.63,582 815.65,585 819.68,588 823.71,591 827.74,593.5 831.76,596 835.79,598 839.82,600 843.85,600.5 847.88,537 851.9,470 855.93,435 859.96,404.81 863.99,387.33 868.01,371.43 872.04,357.23 876.07,345.92 880.1,336.67 884.12,328.01 888.15,319.93 892.18,312.75 896.21,306.51 900.23,300.63 904.26,294.91 908.29,289.57 912.32,284.61 916.34,280 920.37,275.7 924.4,271.73 928.42,268.09 932.45,264.7 936.48,261.44 940.51,258.31 944.54,255.19 948.56,252.14 952.59,249.3 956.62,246.69 960.64,244.09 964.67,241.5 968.7,238.84 972.73,236.12 976.75,233.45 980.78,230.83 984.81,228.3 988.84,225.88 992.87,223.57 996.89,221.4 1000.92,219.31 1004.95,217.28 1008.98,215.33 1013,213.47 1017.03,211.6 1021.06,209.66 1025.09,207.77 1029.11,205.94 1033.14,204.15 1037.17,202.42 1041.19,200.72 1045.22,199.04 1049.25,197.39 1053.28,195.76 1057.31,194.15 1061.33,192.57 1065.36,191 1069.39,189.42 1073.41,187.86 1077.44,186.32 1081.47,184.81 1085.5,183.37 1089.53,181.96 1093.55,180.57 1097.58,179.2 1101.61,177.86 1105.63,176.54 1109.66,175.25 1113.69,173.98 1117.72,172.73 1121.74,171.51 1125.77,170.32 1129.8,169.14 1133.83,167.96 1137.86,166.8 1141.88,165.71 1145.91,164.66 1149.94,163.64 1153.97,162.63 1157.99,161.62 1162.02,160.61 1166.05,159.6 1170.08,158.58 1174.1,157.52 1178.13,156.46 1182.16,155.49 1186.18,154.53 1190.21,153.51 1194.24,152.51 1198.27,151.6 1202.3,150.68 1206.32,149.66 1210.35,148.66 1214.38,147.8 1218.4,146.94 1222.43,145.97 1226.46,145.02 1230.49,144.14 1234.51,143.31" fill="none" stroke="#DC2A18" stroke-width="3.3" stroke-linejoin="round"/>
<g fill="url(#g1)"><circle cx="799.55" cy="574.3" r="10.1"/><circle cx="807.6" cy="579" r="10.1"/><circle cx="815.65" cy="585" r="10.1"/><circle cx="823.71" cy="591" r="10.1"/><circle cx="831.76" cy="596" r="10.1"/><circle cx="839.82" cy="600" r="10.1"/><circle cx="847.88" cy="537" r="10.1"/><circle cx="855.93" cy="435" r="10.1"/><circle cx="863.99" cy="387.33" r="10.1"/><circle cx="872.04" cy="357.23" r="10.1"/><circle cx="880.1" cy="336.67" r="10.1"/><circle cx="888.15" cy="319.93" r="10.1"/><circle cx="896.21" cy="306.51" r="10.1"/><circle cx="904.26" cy="294.91" r="10.1"/><circle cx="912.32" cy="284.61" r="10.1"/><circle cx="920.37" cy="275.7" r="10.1"/><circle cx="928.42" cy="268.09" r="10.1"/><circle cx="936.48" cy="261.44" r="10.1"/><circle cx="944.54" cy="255.19" r="10.1"/><circle cx="952.59" cy="249.3" r="10.1"/><circle cx="960.64" cy="244.09" r="10.1"/><circle cx="968.7" cy="238.84" r="10.1"/><circle cx="976.75" cy="233.45" r="10.1"/><circle cx="984.81" cy="228.3" r="10.1"/><circle cx="992.87" cy="223.57" r="10.1"/><circle cx="1000.92" cy="219.31" r="10.1"/><circle cx="1008.98" cy="215.33" r="10.1"/><circle cx="1017.03" cy="211.6" r="10.1"/><circle cx="1025.09" cy="207.77" r="10.1"/><circle cx="1033.14" cy="204.15" r="10.1"/><circle cx="1041.19" cy="200.72" r="10.1"/><circle cx="1049.25" cy="197.39" r="10.1"/><circle cx="1057.31" cy="194.15" r="10.1"/><circle cx="1065.36" cy="191" r="10.1"/><circle cx="1073.41" cy="187.86" r="10.1"/><circle cx="1081.47" cy="184.81" r="10.1"/><circle cx="1089.53" cy="181.96" r="10.1"/><circle cx="1097.58" cy="179.2" r="10.1"/><circle cx="1105.63" cy="176.54" r="10.1"/><circle cx="1113.69" cy="173.98" r="10.1"/><circle cx="1121.74" cy="171.51" r="10.1"/><circle cx="1129.8" cy="169.14" r="10.1"/><circle cx="1137.86" cy="166.8" r="10.1"/><circle cx="1145.91" cy="164.66" r="10.1"/><circle cx="1153.97" cy="162.63" r="10.1"/><circle cx="1162.02" cy="160.61" r="10.1"/><circle cx="1170.08" cy="158.58" r="10.1"/><circle cx="1178.13" cy="156.46" r="10.1"/><circle cx="1186.18" cy="154.53" r="10.1"/><circle cx="1194.24" cy="152.51" r="10.1"/><circle cx="1202.3" cy="150.68" r="10.1"/><circle cx="1210.35" cy="148.66" r="10.1"/><circle cx="1218.4" cy="146.94" r="10.1"/><circle cx="1226.46" cy="145.02" r="10.1"/><circle cx="1234.51" cy="143.31" r="10.1"/></g>
<polyline points="807.6,582 811.63,586 815.65,590 819.68,593 823.71,596 827.74,597 831.76,598 835.79,599 839.82,600 843.85,600.5 847.88,563.5 851.9,480 855.93,432 859.96,399.98 863.99,383.27 868.01,367.59 872.04,354.05 876.07,343.41 880.1,334.42 884.12,325.85 888.15,317.97 892.18,311.02 896.21,304.87 900.23,298.99 904.26,293.33 908.29,288.09 912.32,283.22 916.34,278.69 920.37,274.47 924.4,270.58 928.42,267.02 932.45,263.65 936.48,260.43 940.51,257.3 944.54,254.17 948.56,251.19 952.59,248.46 956.62,245.87 960.64,243.27 964.67,240.66 968.7,237.97 972.73,235.25 976.75,232.6 980.78,230 984.81,227.51 988.84,225.11 992.87,222.86 996.89,220.71 1000.92,218.64 1004.95,216.63 1008.98,214.71 1013,212.86 1017.03,210.96 1021.06,209.03 1025.09,207.15 1029.11,205.33 1033.14,203.57 1037.17,201.85 1041.19,200.15 1045.22,198.48 1049.25,196.83 1053.28,195.21 1057.31,193.61 1061.33,192.04 1065.36,190.46 1069.39,188.88 1073.41,187.32 1077.44,185.79 1081.47,184.3 1085.5,182.87 1089.53,181.47 1093.55,180.09 1097.58,178.73 1101.61,177.39 1105.63,176.08 1109.66,174.8 1113.69,173.53 1117.72,172.3 1121.74,171.08 1125.77,169.89 1129.8,168.73 1133.83,167.55 1137.86,166.42 1141.88,165.34 1145.91,164.3 1149.94,163.29 1153.97,162.28 1157.99,161.27 1162.02,160.26 1166.05,159.26 1170.08,158.23 1174.1,157.15 1178.13,156.12 1182.16,155.17 1186.18,154.19 1190.21,153.17 1194.24,152.19 1198.27,151.3 1202.3,150.35 1206.32,149.31 1210.35,148.36 1214.38,147.52 1218.4,146.63 1222.43,145.65 1226.46,144.72 1230.49,143.86 1234.51,143.04" fill="none" stroke="#3C2C9C" stroke-width="3.3" stroke-linejoin="round"/>
<g fill="url(#g2)"><circle cx="807.6" cy="582" r="10.1"/><circle cx="815.65" cy="590" r="10.1"/><circle cx="823.71" cy="596" r="10.1"/><circle cx="831.76" cy="598" r="10.1"/><circle cx="839.82" cy="600" r="10.1"/><circle cx="847.88" cy="563.5" r="10.1"/><circle cx="855.93" cy="432" r="10.1"/><circle cx="863.99" cy="383.27" r="10.1"/><circle cx="872.04" cy="354.05" r="10.1"/><circle cx="880.1" cy="334.42" r="10.1"/><circle cx="888.15" cy="317.97" r="10.1"/><circle cx="896.21" cy="304.87" r="10.1"/><circle cx="904.26" cy="293.33" r="10.1"/><circle cx="912.32" cy="283.22" r="10.1"/><circle cx="920.37" cy="274.47" r="10.1"/><circle cx="928.42" cy="267.02" r="10.1"/><circle cx="936.48" cy="260.43" r="10.1"/><circle cx="944.54" cy="254.17" r="10.1"/><circle cx="952.59" cy="248.46" r="10.1"/><circle cx="960.64" cy="243.27" r="10.1"/><circle cx="968.7" cy="237.97" r="10.1"/><circle cx="976.75" cy="232.6" r="10.1"/><circle cx="984.81" cy="227.51" r="10.1"/><circle cx="992.87" cy="222.86" r="10.1"/><circle cx="1000.92" cy="218.64" r="10.1"/><circle cx="1008.98" cy="214.71" r="10.1"/><circle cx="1017.03" cy="210.96" r="10.1"/><circle cx="1025.09" cy="207.15" r="10.1"/><circle cx="1033.14" cy="203.57" r="10.1"/><circle cx="1041.19" cy="200.15" r="10.1"/><circle cx="1049.25" cy="196.83" r="10.1"/><circle cx="1057.31" cy="193.61" r="10.1"/><circle cx="1065.36" cy="190.46" r="10.1"/><circle cx="1073.41" cy="187.32" r="10.1"/><circle cx="1081.47" cy="184.3" r="10.1"/><circle cx="1089.53" cy="181.47" r="10.1"/><circle cx="1097.58" cy="178.73" r="10.1"/><circle cx="1105.63" cy="176.08" r="10.1"/><circle cx="1113.69" cy="173.53" r="10.1"/><circle cx="1121.74" cy="171.08" r="10.1"/><circle cx="1129.8" cy="168.73" r="10.1"/><circle cx="1137.86" cy="166.42" r="10.1"/><circle cx="1145.91" cy="164.3" r="10.1"/><circle cx="1153.97" cy="162.28" r="10.1"/><circle cx="1162.02" cy="160.26" r="10.1"/><circle cx="1170.08" cy="158.23" r="10.1"/><circle cx="1178.13" cy="156.12" r="10.1"/><circle cx="1186.18" cy="154.19" r="10.1"/><circle cx="1194.24" cy="152.19" r="10.1"/><circle cx="1202.3" cy="150.35" r="10.1"/><circle cx="1210.35" cy="148.36" r="10.1"/><circle cx="1218.4" cy="146.63" r="10.1"/><circle cx="1226.46" cy="144.72" r="10.1"/><circle cx="1234.51" cy="143.04" r="10.1"/></g>
<polyline points="807.6,580 811.63,584 815.65,588 819.68,591 823.71,594 827.74,595.5 831.76,597 835.79,598.5 839.82,600 843.85,600 847.88,520.9 851.9,462 855.93,425.3 859.96,394.63 863.99,378.36 868.01,363.16 872.04,350.51 876.07,340.54 880.1,331.72 884.12,323.32 888.15,315.7 892.18,309.01 896.21,302.92 900.23,297.05 904.26,291.49 908.29,286.36 912.32,281.59 916.34,277.15 920.37,273.02 924.4,269.24 928.42,265.75 932.45,262.42 936.48,259.23 940.51,256.1 944.54,252.97 948.56,250.1 952.59,247.48 956.62,244.88 960.64,242.28 964.67,239.65 968.7,236.93 972.73,234.23 976.75,231.58 980.78,229.02 984.81,226.56 988.84,224.22 992.87,222.01 996.89,219.89 1000.92,217.84 1004.95,215.86 1008.98,213.98 1013,212.11 1017.03,210.19 1021.06,208.27 1025.09,206.42 1029.11,204.62 1033.14,202.87 1037.17,201.16 1041.19,199.47 1045.22,197.81 1049.25,196.17 1053.28,194.55 1057.31,192.96 1061.33,191.39 1065.36,189.81 1069.39,188.23 1073.41,186.68 1077.44,185.16 1081.47,183.7 1085.5,182.29 1089.53,180.89 1093.55,179.51 1097.58,178.16 1101.61,176.84 1105.63,175.54 1109.66,174.26 1113.69,173 1117.72,171.78 1121.74,170.57 1125.77,169.39 1129.8,168.23 1133.83,167.07 1137.86,165.96 1141.88,164.91 1145.91,163.88 1149.94,162.88 1153.97,161.87 1157.99,160.86 1162.02,159.85 1166.05,158.84 1170.08,157.79 1174.1,156.72 1178.13,155.73 1182.16,154.78 1186.18,153.78 1190.21,152.76 1194.24,151.83 1198.27,150.93 1202.3,149.94 1206.32,148.91 1210.35,148.02 1214.38,147.18 1218.4,146.24 1222.43,145.26 1226.46,144.38 1230.49,143.53 1234.51,142.72" fill="none" stroke="#00717F" stroke-width="3.3" stroke-linejoin="round"/>
<g fill="url(#g3)"><circle cx="807.6" cy="580" r="10.1"/><circle cx="815.65" cy="588" r="10.1"/><circle cx="823.71" cy="594" r="10.1"/><circle cx="831.76" cy="597" r="10.1"/><circle cx="839.82" cy="600" r="10.1"/><circle cx="847.88" cy="520.9" r="10.1"/><circle cx="855.93" cy="425.3" r="10.1"/><circle cx="863.99" cy="378.36" r="10.1"/><circle cx="872.04" cy="350.51" r="10.1"/><circle cx="880.1" cy="331.72" r="10.1"/><circle cx="888.15" cy="315.7" r="10.1"/><circle cx="896.21" cy="302.92" r="10.1"/><circle cx="904.26" cy="291.49" r="10.1"/><circle cx="912.32" cy="281.59" r="10.1"/><circle cx="920.37" cy="273.02" r="10.1"/><circle cx="928.42" cy="265.75" r="10.1"/><circle cx="936.48" cy="259.23" r="10.1"/><circle cx="944.54" cy="252.97" r="10.1"/><circle cx="952.59" cy="247.48" r="10.1"/><circle cx="960.64" cy="242.28" r="10.1"/><circle cx="968.7" cy="236.93" r="10.1"/><circle cx="976.75" cy="231.58" r="10.1"/><circle cx="984.81" cy="226.56" r="10.1"/><circle cx="992.87" cy="222.01" r="10.1"/><circle cx="1000.92" cy="217.84" r="10.1"/><circle cx="1008.98" cy="213.98" r="10.1"/><circle cx="1017.03" cy="210.19" r="10.1"/><circle cx="1025.09" cy="206.42" r="10.1"/><circle cx="1033.14" cy="202.87" r="10.1"/><circle cx="1041.19" cy="199.47" r="10.1"/><circle cx="1049.25" cy="196.17" r="10.1"/><circle cx="1057.31" cy="192.96" r="10.1"/><circle cx="1065.36" cy="189.81" r="10.1"/><circle cx="1073.41" cy="186.68" r="10.1"/><circle cx="1081.47" cy="183.7" r="10.1"/><circle cx="1089.53" cy="180.89" r="10.1"/><circle cx="1097.58" cy="178.16" r="10.1"/><circle cx="1105.63" cy="175.54" r="10.1"/><circle cx="1113.69" cy="173" r="10.1"/><circle cx="1121.74" cy="170.57" r="10.1"/><circle cx="1129.8" cy="168.23" r="10.1"/><circle cx="1137.86" cy="165.96" r="10.1"/><circle cx="1145.91" cy="163.88" r="10.1"/><circle cx="1153.97" cy="161.87" r="10.1"/><circle cx="1162.02" cy="159.85" r="10.1"/><circle cx="1170.08" cy="157.79" r="10.1"/><circle cx="1178.13" cy="155.73" r="10.1"/><circle cx="1186.18" cy="153.78" r="10.1"/><circle cx="1194.24" cy="151.83" r="10.1"/><circle cx="1202.3" cy="149.94" r="10.1"/><circle cx="1210.35" cy="148.02" r="10.1"/><circle cx="1218.4" cy="146.24" r="10.1"/><circle cx="1226.46" cy="144.38" r="10.1"/><circle cx="1234.51" cy="142.72" r="10.1"/></g>
<polyline points="807.6,578 811.63,582 815.65,586 819.68,589 823.71,592 827.74,594.5 831.76,597 835.79,599.1 839.82,601.2 843.85,457 847.88,435 851.9,406.11 855.93,388.08 859.96,371.87 863.99,357.5 868.01,346.05 872.04,336.71 876.07,327.99 880.1,319.85 884.12,312.62 888.15,306.16 892.18,299.93 896.21,293.99 900.23,288.56 904.26,283.51 908.29,278.84 912.32,274.5 916.34,270.5 920.37,266.85 924.4,263.4 928.42,260.1 932.45,256.89 936.48,253.68 940.51,250.66 944.54,248.01 948.56,245.48 952.59,242.88 956.62,240.25 960.64,237.53 964.67,234.8 968.7,232.14 972.73,229.54 976.75,227.05 980.78,224.66 984.81,222.42 988.84,220.28 992.87,218.2 996.89,216.2 1000.92,214.29 1004.95,212.42 1008.98,210.49 1013,208.56 1017.03,206.69 1021.06,204.87 1025.09,203.11 1029.11,201.39 1033.14,199.68 1037.17,198.01 1041.19,196.35 1045.22,194.72 1049.25,193.13 1053.28,191.55 1057.31,189.96 1061.33,188.37 1065.36,186.81 1069.39,185.28 1073.41,183.8 1077.44,182.38 1081.47,180.97 1085.5,179.59 1089.53,178.23 1093.55,176.9 1097.58,175.59 1101.61,174.3 1105.63,173.04 1109.66,171.8 1113.69,170.59 1117.72,169.41 1121.74,168.24 1125.77,167.1 1129.8,166.01 1133.83,164.96 1137.86,163.94 1141.88,162.93 1145.91,161.93 1149.94,160.92 1153.97,159.92 1157.99,158.91 1162.02,157.87 1166.05,156.8 1170.08,155.81 1174.1,154.86 1178.13,153.87 1182.16,152.85 1186.18,151.92 1190.21,151.03 1194.24,150.05 1198.27,149.02 1202.3,148.12 1206.32,147.28 1210.35,146.36 1214.38,145.39 1218.4,144.49 1222.43,143.64 1226.46,142.83 1230.49,142.03 1234.51,141.18" fill="none" stroke="#E00A8C" stroke-width="3.3" stroke-linejoin="round"/>
<g fill="url(#g4)"><circle cx="807.6" cy="578" r="10.1"/><circle cx="815.65" cy="586" r="10.1"/><circle cx="823.71" cy="592" r="10.1"/><circle cx="831.76" cy="597" r="10.1"/><circle cx="839.82" cy="601.2" r="10.1"/><circle cx="847.88" cy="435" r="10.1"/><circle cx="855.93" cy="388.08" r="10.1"/><circle cx="863.99" cy="357.5" r="10.1"/><circle cx="872.04" cy="336.71" r="10.1"/><circle cx="880.1" cy="319.85" r="10.1"/><circle cx="888.15" cy="306.16" r="10.1"/><circle cx="896.21" cy="293.99" r="10.1"/><circle cx="904.26" cy="283.51" r="10.1"/><circle cx="912.32" cy="274.5" r="10.1"/><circle cx="920.37" cy="266.85" r="10.1"/><circle cx="928.42" cy="260.1" r="10.1"/><circle cx="936.48" cy="253.68" r="10.1"/><circle cx="944.54" cy="248.01" r="10.1"/><circle cx="952.59" cy="242.88" r="10.1"/><circle cx="960.64" cy="237.53" r="10.1"/><circle cx="968.7" cy="232.14" r="10.1"/><circle cx="976.75" cy="227.05" r="10.1"/><circle cx="984.81" cy="222.42" r="10.1"/><circle cx="992.87" cy="218.2" r="10.1"/><circle cx="1000.92" cy="214.29" r="10.1"/><circle cx="1008.98" cy="210.49" r="10.1"/><circle cx="1017.03" cy="206.69" r="10.1"/><circle cx="1025.09" cy="203.11" r="10.1"/><circle cx="1033.14" cy="199.68" r="10.1"/><circle cx="1041.19" cy="196.35" r="10.1"/><circle cx="1049.25" cy="193.13" r="10.1"/><circle cx="1057.31" cy="189.96" r="10.1"/><circle cx="1065.36" cy="186.81" r="10.1"/><circle cx="1073.41" cy="183.8" r="10.1"/><circle cx="1081.47" cy="180.97" r="10.1"/><circle cx="1089.53" cy="178.23" r="10.1"/><circle cx="1097.58" cy="175.59" r="10.1"/><circle cx="1105.63" cy="173.04" r="10.1"/><circle cx="1113.69" cy="170.59" r="10.1"/><circle cx="1121.74" cy="168.24" r="10.1"/><circle cx="1129.8" cy="166.01" r="10.1"/><circle cx="1137.86" cy="163.94" r="10.1"/><circle cx="1145.91" cy="161.93" r="10.1"/><circle cx="1153.97" cy="159.92" r="10.1"/><circle cx="1162.02" cy="157.87" r="10.1"/><circle cx="1170.08" cy="155.81" r="10.1"/><circle cx="1178.13" cy="153.87" r="10.1"/><circle cx="1186.18" cy="151.92" r="10.1"/><circle cx="1194.24" cy="150.05" r="10.1"/><circle cx="1202.3" cy="148.12" r="10.1"/><circle cx="1210.35" cy="146.36" r="10.1"/><circle cx="1218.4" cy="144.49" r="10.1"/><circle cx="1226.46" cy="142.83" r="10.1"/><circle cx="1234.51" cy="141.18" r="10.1"/></g>
<polyline points="807.6,578 811.63,582 815.65,586 819.68,589 823.71,592 827.74,594.5 831.76,597 835.79,598 839.82,512.8 843.85,455 847.88,426 851.9,397.5 855.93,380.77 859.96,365.08 863.99,351.93 868.01,341.64 872.04,332.69 876.07,324.16 880.1,316.39 884.12,309.57 888.15,303.27 892.18,297.08 896.21,291.3 900.23,286.03 904.26,281.14 908.29,276.6 912.32,272.4 916.34,268.57 920.37,265.02 924.4,261.61 928.42,258.36 932.45,255.12 936.48,251.95 940.51,249.13 944.54,246.57 948.56,244 952.59,241.4 956.62,238.72 960.64,235.97 964.67,233.28 968.7,230.64 972.73,228.1 976.75,225.66 980.78,223.35 984.81,221.17 988.84,219.06 992.87,217.02 996.89,215.07 1000.92,213.2 1004.95,211.3 1008.98,209.35 1013,207.45 1017.03,205.61 1021.06,203.82 1025.09,202.08 1029.11,200.37 1033.14,198.68 1037.17,197.01 1041.19,195.37 1045.22,193.75 1049.25,192.17 1053.28,190.58 1057.31,188.99 1061.33,187.42 1065.36,185.87 1069.39,184.36 1073.41,182.92 1077.44,181.51 1081.47,180.11 1085.5,178.74 1089.53,177.39 1093.55,176.07 1097.58,174.78 1101.61,173.51 1105.63,172.26 1109.66,171.04 1113.69,169.84 1117.72,168.66 1121.74,167.51 1125.77,166.4 1129.8,165.35 1133.83,164.31 1137.86,163.31 1141.88,162.3 1145.91,161.3 1149.94,160.29 1153.97,159.29 1157.99,158.27 1162.02,157.2 1166.05,156.17 1170.08,155.23 1174.1,154.26 1178.13,153.24 1182.16,152.27 1186.18,151.37 1190.21,150.44 1194.24,149.42 1198.27,148.45 1202.3,147.61 1206.32,146.74 1210.35,145.77 1214.38,144.84 1218.4,143.98 1222.43,143.15 1226.46,142.35 1230.49,141.53 1234.51,140.65" fill="none" stroke="#957A26" stroke-width="3.3" stroke-linejoin="round"/>
<g fill="url(#g5)"><circle cx="807.6" cy="578" r="10.1"/><circle cx="815.65" cy="586" r="10.1"/><circle cx="823.71" cy="592" r="10.1"/><circle cx="831.76" cy="597" r="10.1"/><circle cx="839.82" cy="512.8" r="10.1"/><circle cx="847.88" cy="426" r="10.1"/><circle cx="855.93" cy="380.77" r="10.1"/><circle cx="863.99" cy="351.93" r="10.1"/><circle cx="872.04" cy="332.69" r="10.1"/><circle cx="880.1" cy="316.39" r="10.1"/><circle cx="888.15" cy="303.27" r="10.1"/><circle cx="896.21" cy="291.3" r="10.1"/><circle cx="904.26" cy="281.14" r="10.1"/><circle cx="912.32" cy="272.4" r="10.1"/><circle cx="920.37" cy="265.02" r="10.1"/><circle cx="928.42" cy="258.36" r="10.1"/><circle cx="936.48" cy="251.95" r="10.1"/><circle cx="944.54" cy="246.57" r="10.1"/><circle cx="952.59" cy="241.4" r="10.1"/><circle cx="960.64" cy="235.97" r="10.1"/><circle cx="968.7" cy="230.64" r="10.1"/><circle cx="976.75" cy="225.66" r="10.1"/><circle cx="984.81" cy="221.17" r="10.1"/><circle cx="992.87" cy="217.02" r="10.1"/><circle cx="1000.92" cy="213.2" r="10.1"/><circle cx="1008.98" cy="209.35" r="10.1"/><circle cx="1017.03" cy="205.61" r="10.1"/><circle cx="1025.09" cy="202.08" r="10.1"/><circle cx="1033.14" cy="198.68" r="10.1"/><circle cx="1041.19" cy="195.37" r="10.1"/><circle cx="1049.25" cy="192.17" r="10.1"/><circle cx="1057.31" cy="188.99" r="10.1"/><circle cx="1065.36" cy="185.87" r="10.1"/><circle cx="1073.41" cy="182.92" r="10.1"/><circle cx="1081.47" cy="180.11" r="10.1"/><circle cx="1089.53" cy="177.39" r="10.1"/><circle cx="1097.58" cy="174.78" r="10.1"/><circle cx="1105.63" cy="172.26" r="10.1"/><circle cx="1113.69" cy="169.84" r="10.1"/><circle cx="1121.74" cy="167.51" r="10.1"/><circle cx="1129.8" cy="165.35" r="10.1"/><circle cx="1137.86" cy="163.31" r="10.1"/><circle cx="1145.91" cy="161.3" r="10.1"/><circle cx="1153.97" cy="159.29" r="10.1"/><circle cx="1162.02" cy="157.2" r="10.1"/><circle cx="1170.08" cy="155.23" r="10.1"/><circle cx="1178.13" cy="153.24" r="10.1"/><circle cx="1186.18" cy="151.37" r="10.1"/><circle cx="1194.24" cy="149.42" r="10.1"/><circle cx="1202.3" cy="147.61" r="10.1"/><circle cx="1210.35" cy="145.77" r="10.1"/><circle cx="1218.4" cy="143.98" r="10.1"/><circle cx="1226.46" cy="142.35" r="10.1"/><circle cx="1234.51" cy="140.65" r="10.1"/></g>
<polyline points="807.6,578 811.63,582 815.65,586 819.68,589 823.71,592 827.74,594.5 831.76,597 835.79,598 839.82,497 843.85,450 847.88,421.6 851.9,393.16 855.93,376.72 859.96,361.51 863.99,349.13 868.01,339.32 872.04,330.47 876.07,322.1 880.1,314.57 884.12,307.93 888.15,301.66 892.18,295.52 896.21,289.86 900.23,284.67 904.26,279.86 908.29,275.39 912.32,271.28 916.34,267.53 920.37,264.01 924.4,260.64 928.42,257.39 932.45,254.14 936.48,251.04 940.51,248.32 944.54,245.76 948.56,243.18 952.59,240.58 956.62,237.86 960.64,235.12 964.67,232.44 968.7,229.82 972.73,227.31 976.75,224.91 980.78,222.64 984.81,220.49 988.84,218.4 992.87,216.38 996.89,214.46 1000.92,212.59 1004.95,210.66 1008.98,208.72 1013,206.84 1017.03,205.01 1021.06,203.24 1025.09,201.51 1029.11,199.8 1033.14,198.12 1037.17,196.46 1041.19,194.83 1045.22,193.22 1049.25,191.64 1053.28,190.04 1057.31,188.45 1061.33,186.89 1065.36,185.35 1069.39,183.87 1073.41,182.44 1077.44,181.02 1081.47,179.64 1085.5,178.27 1089.53,176.93 1093.55,175.62 1097.58,174.33 1101.61,173.07 1105.63,171.83 1109.66,170.61 1113.69,169.42 1117.72,168.25 1121.74,167.11 1125.77,166.02 1129.8,164.98 1133.83,163.96 1137.86,162.96 1141.88,161.95 1145.91,160.95 1149.94,159.95 1153.97,158.95 1157.99,157.91 1162.02,156.84 1166.05,155.84 1170.08,154.9 1174.1,153.92 1178.13,152.9 1182.16,151.96 1186.18,151.07 1190.21,150.1 1194.24,149.07 1198.27,148.16 1202.3,147.33 1206.32,146.41 1210.35,145.44 1214.38,144.54 1218.4,143.7 1222.43,142.88 1226.46,142.08 1230.49,141.24 1234.51,140.37" fill="none" stroke="#54816A" stroke-width="3.3" stroke-linejoin="round"/>
<g fill="url(#g6)"><circle cx="807.6" cy="578" r="10.1"/><circle cx="815.65" cy="586" r="10.1"/><circle cx="823.71" cy="592" r="10.1"/><circle cx="831.76" cy="597" r="10.1"/><circle cx="839.82" cy="497" r="10.1"/><circle cx="847.88" cy="421.6" r="10.1"/><circle cx="855.93" cy="376.72" r="10.1"/><circle cx="863.99" cy="349.13" r="10.1"/><circle cx="872.04" cy="330.47" r="10.1"/><circle cx="880.1" cy="314.57" r="10.1"/><circle cx="888.15" cy="301.66" r="10.1"/><circle cx="896.21" cy="289.86" r="10.1"/><circle cx="904.26" cy="279.86" r="10.1"/><circle cx="912.32" cy="271.28" r="10.1"/><circle cx="920.37" cy="264.01" r="10.1"/><circle cx="928.42" cy="257.39" r="10.1"/><circle cx="936.48" cy="251.04" r="10.1"/><circle cx="944.54" cy="245.76" r="10.1"/><circle cx="952.59" cy="240.58" r="10.1"/><circle cx="960.64" cy="235.12" r="10.1"/><circle cx="968.7" cy="229.82" r="10.1"/><circle cx="976.75" cy="224.91" r="10.1"/><circle cx="984.81" cy="220.49" r="10.1"/><circle cx="992.87" cy="216.38" r="10.1"/><circle cx="1000.92" cy="212.59" r="10.1"/><circle cx="1008.98" cy="208.72" r="10.1"/><circle cx="1017.03" cy="205.01" r="10.1"/><circle cx="1025.09" cy="201.51" r="10.1"/><circle cx="1033.14" cy="198.12" r="10.1"/><circle cx="1041.19" cy="194.83" r="10.1"/><circle cx="1049.25" cy="191.64" r="10.1"/><circle cx="1057.31" cy="188.45" r="10.1"/><circle cx="1065.36" cy="185.35" r="10.1"/><circle cx="1073.41" cy="182.44" r="10.1"/><circle cx="1081.47" cy="179.64" r="10.1"/><circle cx="1089.53" cy="176.93" r="10.1"/><circle cx="1097.58" cy="174.33" r="10.1"/><circle cx="1105.63" cy="171.83" r="10.1"/><circle cx="1113.69" cy="169.42" r="10.1"/><circle cx="1121.74" cy="167.11" r="10.1"/><circle cx="1129.8" cy="164.98" r="10.1"/><circle cx="1137.86" cy="162.96" r="10.1"/><circle cx="1145.91" cy="160.95" r="10.1"/><circle cx="1153.97" cy="158.95" r="10.1"/><circle cx="1162.02" cy="156.84" r="10.1"/><circle cx="1170.08" cy="154.9" r="10.1"/><circle cx="1178.13" cy="152.9" r="10.1"/><circle cx="1186.18" cy="151.07" r="10.1"/><circle cx="1194.24" cy="149.07" r="10.1"/><circle cx="1202.3" cy="147.33" r="10.1"/><circle cx="1210.35" cy="145.44" r="10.1"/><circle cx="1218.4" cy="143.7" r="10.1"/><circle cx="1226.46" cy="142.08" r="10.1"/><circle cx="1234.51" cy="140.37" r="10.1"/></g>
<polyline points="807.6,578 811.63,581.5 815.65,585 819.68,588 823.71,591 827.74,594 831.76,597 835.79,598 839.82,477.1 843.85,435 847.88,408.4 851.9,386.97 855.93,370.81 859.96,356.49 863.99,345.22 868.01,335.94 872.04,327.21 876.07,319.11 880.1,311.95 884.12,305.51 888.15,299.26 892.18,293.24 896.21,287.74 900.23,282.67 904.26,277.99 908.29,273.63 912.32,269.65 916.34,266 920.37,262.52 924.4,259.2 928.42,255.94 932.45,252.7 936.48,249.75 940.51,247.13 944.54,244.54 948.56,241.96 952.59,239.31 956.62,236.56 960.64,233.85 964.67,231.19 968.7,228.62 972.73,226.15 976.75,223.81 980.78,221.6 984.81,219.48 988.84,217.42 992.87,215.44 996.89,213.55 1000.92,211.66 1004.95,209.71 1008.98,207.79 1013,205.93 1017.03,204.13 1021.06,202.38 1025.09,200.66 1029.11,198.96 1033.14,197.29 1037.17,195.64 1041.19,194.02 1045.22,192.42 1049.25,190.84 1053.28,189.24 1057.31,187.66 1061.33,186.1 1065.36,184.59 1069.39,183.13 1073.41,181.71 1077.44,180.31 1081.47,178.93 1085.5,177.58 1089.53,176.25 1093.55,174.95 1097.58,173.67 1101.61,172.42 1105.63,171.19 1109.66,169.98 1113.69,168.8 1117.72,167.64 1121.74,166.52 1125.77,165.46 1129.8,164.44 1133.83,163.43 1137.86,162.43 1141.88,161.43 1145.91,160.42 1149.94,159.43 1153.97,158.41 1157.99,157.35 1162.02,156.31 1166.05,155.36 1170.08,154.4 1174.1,153.39 1178.13,152.4 1182.16,151.5 1186.18,150.59 1190.21,149.57 1194.24,148.59 1198.27,147.74 1202.3,146.88 1206.32,145.92 1210.35,144.98 1214.38,144.11 1218.4,143.28 1222.43,142.48 1226.46,141.67 1230.49,140.8 1234.51,139.98" fill="none" stroke="#8B5A46" stroke-width="3.3" stroke-linejoin="round"/>
<g fill="url(#g7)"><circle cx="807.6" cy="578" r="10.1"/><circle cx="815.65" cy="585" r="10.1"/><circle cx="823.71" cy="591" r="10.1"/><circle cx="831.76" cy="597" r="10.1"/><circle cx="839.82" cy="477.1" r="10.1"/><circle cx="847.88" cy="408.4" r="10.1"/><circle cx="855.93" cy="370.81" r="10.1"/><circle cx="863.99" cy="345.22" r="10.1"/><circle cx="872.04" cy="327.21" r="10.1"/><circle cx="880.1" cy="311.95" r="10.1"/><circle cx="888.15" cy="299.26" r="10.1"/><circle cx="896.21" cy="287.74" r="10.1"/><circle cx="904.26" cy="277.99" r="10.1"/><circle cx="912.32" cy="269.65" r="10.1"/><circle cx="920.37" cy="262.52" r="10.1"/><circle cx="928.42" cy="255.94" r="10.1"/><circle cx="936.48" cy="249.75" r="10.1"/><circle cx="944.54" cy="244.54" r="10.1"/><circle cx="952.59" cy="239.31" r="10.1"/><circle cx="960.64" cy="233.85" r="10.1"/><circle cx="968.7" cy="228.62" r="10.1"/><circle cx="976.75" cy="223.81" r="10.1"/><circle cx="984.81" cy="219.48" r="10.1"/><circle cx="992.87" cy="215.44" r="10.1"/><circle cx="1000.92" cy="211.66" r="10.1"/><circle cx="1008.98" cy="207.79" r="10.1"/><circle cx="1017.03" cy="204.13" r="10.1"/><circle cx="1025.09" cy="200.66" r="10.1"/><circle cx="1033.14" cy="197.29" r="10.1"/><circle cx="1041.19" cy="194.02" r="10.1"/><circle cx="1049.25" cy="190.84" r="10.1"/><circle cx="1057.31" cy="187.66" r="10.1"/><circle cx="1065.36" cy="184.59" r="10.1"/><circle cx="1073.41" cy="181.71" r="10.1"/><circle cx="1081.47" cy="178.93" r="10.1"/><circle cx="1089.53" cy="176.25" r="10.1"/><circle cx="1097.58" cy="173.67" r="10.1"/><circle cx="1105.63" cy="171.19" r="10.1"/><circle cx="1113.69" cy="168.8" r="10.1"/><circle cx="1121.74" cy="166.52" r="10.1"/><circle cx="1129.8" cy="164.44" r="10.1"/><circle cx="1137.86" cy="162.43" r="10.1"/><circle cx="1145.91" cy="160.42" r="10.1"/><circle cx="1153.97" cy="158.41" r="10.1"/><circle cx="1162.02" cy="156.31" r="10.1"/><circle cx="1170.08" cy="154.4" r="10.1"/><circle cx="1178.13" cy="152.4" r="10.1"/><circle cx="1186.18" cy="150.59" r="10.1"/><circle cx="1194.24" cy="148.59" r="10.1"/><circle cx="1202.3" cy="146.88" r="10.1"/><circle cx="1210.35" cy="144.98" r="10.1"/><circle cx="1218.4" cy="143.28" r="10.1"/><circle cx="1226.46" cy="141.67" r="10.1"/><circle cx="1234.51" cy="139.98" r="10.1"/></g>
<polyline points="807.6,578 811.63,582 815.65,586 819.68,589.5 823.71,593 827.74,595.9 831.76,598.8 835.79,475 839.82,431.4 843.85,403.86 847.88,386.28 851.9,370.15 855.93,355.94 859.96,344.74 863.99,335.47 868.01,326.73 872.04,318.65 876.07,311.51 880.1,305.08 884.12,298.8 888.15,292.79 892.18,287.26 896.21,282.14 900.23,277.41 904.26,273.04 908.29,269.05 912.32,265.38 916.34,261.87 920.37,258.52 924.4,255.2 928.42,251.95 932.45,249.05 936.48,246.42 940.51,243.79 944.54,241.16 948.56,238.46 952.59,235.7 956.62,233 960.64,230.35 964.67,227.81 968.7,225.36 972.73,223.06 976.75,220.88 980.78,218.77 984.81,216.72 988.84,214.77 992.87,212.89 996.89,210.97 1000.92,209.01 1004.95,207.11 1008.98,205.26 1013,203.47 1017.03,201.73 1021.06,200.01 1025.09,198.32 1029.11,196.65 1033.14,195 1037.17,193.38 1041.19,191.79 1045.22,190.19 1049.25,188.59 1053.28,187.01 1057.31,185.46 1061.33,183.97 1065.36,182.53 1069.39,181.11 1073.41,179.71 1077.44,178.34 1081.47,176.99 1085.5,175.67 1089.53,174.37 1093.55,173.1 1097.58,171.85 1101.61,170.63 1105.63,169.43 1109.66,168.26 1113.69,167.11 1117.72,166.01 1121.74,164.97 1125.77,163.95 1129.8,162.96 1133.83,161.96 1137.86,160.96 1141.88,159.96 1145.91,158.96 1149.94,157.93 1153.97,156.86 1157.99,155.87 1162.02,154.93 1166.05,153.95 1170.08,152.94 1174.1,152 1178.13,151.11 1182.16,150.15 1186.18,149.13 1190.21,148.21 1194.24,147.38 1198.27,146.48 1202.3,145.51 1206.32,144.61 1210.35,143.76 1214.38,142.95 1218.4,142.16 1222.43,141.32 1226.46,140.45 1230.49,139.68 1234.51,139" fill="none" stroke="#E60652" stroke-width="3.3" stroke-linejoin="round"/>
<g fill="url(#g8)"><circle cx="807.6" cy="578" r="10.1"/><circle cx="815.65" cy="586" r="10.1"/><circle cx="823.71" cy="593" r="10.1"/><circle cx="831.76" cy="598.8" r="10.1"/><circle cx="839.82" cy="431.4" r="10.1"/><circle cx="847.88" cy="386.28" r="10.1"/><circle cx="855.93" cy="355.94" r="10.1"/><circle cx="863.99" cy="335.47" r="10.1"/><circle cx="872.04" cy="318.65" r="10.1"/><circle cx="880.1" cy="305.08" r="10.1"/><circle cx="888.15" cy="292.79" r="10.1"/><circle cx="896.21" cy="282.14" r="10.1"/><circle cx="904.26" cy="273.04" r="10.1"/><circle cx="912.32" cy="265.38" r="10.1"/><circle cx="920.37" cy="258.52" r="10.1"/><circle cx="928.42" cy="251.95" r="10.1"/><circle cx="936.48" cy="246.42" r="10.1"/><circle cx="944.54" cy="241.16" r="10.1"/><circle cx="952.59" cy="235.7" r="10.1"/><circle cx="960.64" cy="230.35" r="10.1"/><circle cx="968.7" cy="225.36" r="10.1"/><circle cx="976.75" cy="220.88" r="10.1"/><circle cx="984.81" cy="216.72" r="10.1"/><circle cx="992.87" cy="212.89" r="10.1"/><circle cx="1000.92" cy="209.01" r="10.1"/><circle cx="1008.98" cy="205.26" r="10.1"/><circle cx="1017.03" cy="201.73" r="10.1"/><circle cx="1025.09" cy="198.32" r="10.1"/><circle cx="1033.14" cy="195" r="10.1"/><circle cx="1041.19" cy="191.79" r="10.1"/><circle cx="1049.25" cy="188.59" r="10.1"/><circle cx="1057.31" cy="185.46" r="10.1"/><circle cx="1065.36" cy="182.53" r="10.1"/><circle cx="1073.41" cy="179.71" r="10.1"/><circle cx="1081.47" cy="176.99" r="10.1"/><circle cx="1089.53" cy="174.37" r="10.1"/><circle cx="1097.58" cy="171.85" r="10.1"/><circle cx="1105.63" cy="169.43" r="10.1"/><circle cx="1113.69" cy="167.11" r="10.1"/><circle cx="1121.74" cy="164.97" r="10.1"/><circle cx="1129.8" cy="162.96" r="10.1"/><circle cx="1137.86" cy="160.96" r="10.1"/><circle cx="1145.91" cy="158.96" r="10.1"/><circle cx="1153.97" cy="156.86" r="10.1"/><circle cx="1162.02" cy="154.93" r="10.1"/><circle cx="1170.08" cy="152.94" r="10.1"/><circle cx="1178.13" cy="151.11" r="10.1"/><circle cx="1186.18" cy="149.13" r="10.1"/><circle cx="1194.24" cy="147.38" r="10.1"/><circle cx="1202.3" cy="145.51" r="10.1"/><circle cx="1210.35" cy="143.76" r="10.1"/><circle cx="1218.4" cy="142.16" r="10.1"/><circle cx="1226.46" cy="140.45" r="10.1"/><circle cx="1234.51" cy="139" r="10.1"/></g>
<polyline points="807.6,577.6 811.63,581.8 815.65,586 819.68,589.4 823.71,592.8 827.74,593.5 831.76,501.6 835.79,452 839.82,419.3 843.85,397.74 847.88,381 851.9,365.28 855.93,352 859.96,341.62 863.99,332.6 868.01,324.01 872.04,316.2 876.07,309.35 880.1,303 884.12,296.77 888.15,290.9 892.18,285.5 896.21,280.5 900.23,275.87 904.26,271.6 908.29,267.72 912.32,264.1 916.34,260.64 920.37,257.3 924.4,253.96 928.42,250.8 932.45,248.03 936.48,245.4 940.51,242.76 944.54,240.1 948.56,237.35 952.59,234.6 956.62,231.91 960.64,229.3 964.67,226.79 968.7,224.4 972.73,222.15 976.75,220 980.78,217.91 984.81,215.9 988.84,213.99 992.87,212.1 996.89,210.14 1000.92,208.2 1004.95,206.32 1008.98,204.5 1013,202.73 1017.03,201 1021.06,199.29 1025.09,197.6 1029.11,195.94 1033.14,194.3 1037.17,192.69 1041.19,191.1 1045.22,189.49 1049.25,187.9 1053.28,186.33 1057.31,184.8 1061.33,183.33 1065.36,181.9 1069.39,180.49 1073.41,179.1 1077.44,177.74 1081.47,176.4 1085.5,175.09 1089.53,173.8 1093.55,172.54 1097.58,171.3 1101.61,170.09 1105.63,168.9 1109.66,167.73 1113.69,166.6 1117.72,165.53 1121.74,164.5 1125.77,163.49 1129.8,162.5 1133.83,161.5 1137.86,160.5 1141.88,159.51 1145.91,158.5 1149.94,157.44 1153.97,156.4 1157.99,155.44 1162.02,154.5 1166.05,153.49 1170.08,152.5 1174.1,151.6 1178.13,150.7 1182.16,149.69 1186.18,148.7 1190.21,147.84 1194.24,147 1198.27,146.05 1202.3,145.1 1206.32,144.23 1210.35,143.4 1214.38,142.6 1218.4,141.8 1222.43,140.94 1226.46,140.1 1230.49,139.38 1234.51,138.7" fill="none" stroke="#2E2B5E" stroke-width="3.3" stroke-linejoin="round"/>
<g fill="url(#g9)"><circle cx="807.6" cy="577.6" r="10.1"/><circle cx="815.65" cy="586" r="10.1"/><circle cx="823.71" cy="592.8" r="10.1"/><circle cx="831.76" cy="501.6" r="10.1"/><circle cx="839.82" cy="419.3" r="10.1"/><circle cx="847.88" cy="381" r="10.1"/><circle cx="855.93" cy="352" r="10.1"/><circle cx="863.99" cy="332.6" r="10.1"/><circle cx="872.04" cy="316.2" r="10.1"/><circle cx="880.1" cy="303" r="10.1"/><circle cx="888.15" cy="290.9" r="10.1"/><circle cx="896.21" cy="280.5" r="10.1"/><circle cx="904.26" cy="271.6" r="10.1"/><circle cx="912.32" cy="264.1" r="10.1"/><circle cx="920.37" cy="257.3" r="10.1"/><circle cx="928.42" cy="250.8" r="10.1"/><circle cx="936.48" cy="245.4" r="10.1"/><circle cx="944.54" cy="240.1" r="10.1"/><circle cx="952.59" cy="234.6" r="10.1"/><circle cx="960.64" cy="229.3" r="10.1"/><circle cx="968.7" cy="224.4" r="10.1"/><circle cx="976.75" cy="220" r="10.1"/><circle cx="984.81" cy="215.9" r="10.1"/><circle cx="992.87" cy="212.1" r="10.1"/><circle cx="1000.92" cy="208.2" r="10.1"/><circle cx="1008.98" cy="204.5" r="10.1"/><circle cx="1017.03" cy="201" r="10.1"/><circle cx="1025.09" cy="197.6" r="10.1"/><circle cx="1033.14" cy="194.3" r="10.1"/><circle cx="1041.19" cy="191.1" r="10.1"/><circle cx="1049.25" cy="187.9" r="10.1"/><circle cx="1057.31" cy="184.8" r="10.1"/><circle cx="1065.36" cy="181.9" r="10.1"/><circle cx="1073.41" cy="179.1" r="10.1"/><circle cx="1081.47" cy="176.4" r="10.1"/><circle cx="1089.53" cy="173.8" r="10.1"/><circle cx="1097.58" cy="171.3" r="10.1"/><circle cx="1105.63" cy="168.9" r="10.1"/><circle cx="1113.69" cy="166.6" r="10.1"/><circle cx="1121.74" cy="164.5" r="10.1"/><circle cx="1129.8" cy="162.5" r="10.1"/><circle cx="1137.86" cy="160.5" r="10.1"/><circle cx="1145.91" cy="158.5" r="10.1"/><circle cx="1153.97" cy="156.4" r="10.1"/><circle cx="1162.02" cy="154.5" r="10.1"/><circle cx="1170.08" cy="152.5" r="10.1"/><circle cx="1178.13" cy="150.7" r="10.1"/><circle cx="1186.18" cy="148.7" r="10.1"/><circle cx="1194.24" cy="147" r="10.1"/><circle cx="1202.3" cy="145.1" r="10.1"/><circle cx="1210.35" cy="143.4" r="10.1"/><circle cx="1218.4" cy="141.8" r="10.1"/><circle cx="1226.46" cy="140.1" r="10.1"/><circle cx="1234.51" cy="138.7" r="10.1"/></g>
<path d="M798.9 43.5H1243.3V697.1" fill="none" stroke="#0d0d0d" stroke-width="2.8" stroke-linejoin="miter"/>
<text x="777.9" y="57.4" font-size="35.8" text-anchor="end" style="font-kerning:none">10<tspan font-size="21.6" dy="-20.7">-2</tspan></text>
<text x="777.9" y="122.62" font-size="35.8" text-anchor="end" style="font-kerning:none">10<tspan font-size="21.6" dy="-20.7">-3</tspan></text>
<text x="777.9" y="187.84" font-size="35.8" text-anchor="end" style="font-kerning:none">10<tspan font-size="21.6" dy="-20.7">-4</tspan></text>
<text x="777.9" y="253.06" font-size="35.8" text-anchor="end" style="font-kerning:none">10<tspan font-size="21.6" dy="-20.7">-5</tspan></text>
<text x="777.9" y="318.28" font-size="35.8" text-anchor="end" style="font-kerning:none">10<tspan font-size="21.6" dy="-20.7">-6</tspan></text>
<text x="777.9" y="383.5" font-size="35.8" text-anchor="end" style="font-kerning:none">10<tspan font-size="21.6" dy="-20.7">-7</tspan></text>
<text x="777.9" y="448.72" font-size="35.8" text-anchor="end" style="font-kerning:none">10<tspan font-size="21.6" dy="-20.7">-8</tspan></text>
<text x="777.9" y="513.94" font-size="35.8" text-anchor="end" style="font-kerning:none">10<tspan font-size="21.6" dy="-20.7">-9</tspan></text>
<text x="777.9" y="579.16" font-size="35.8" text-anchor="end" style="font-kerning:none">10<tspan font-size="21.6" dy="-20.7">-10</tspan></text>
<text x="777.9" y="644.38" font-size="35.8" text-anchor="end" style="font-kerning:none">10<tspan font-size="21.6" dy="-20.7">-11</tspan></text>
<text x="777.9" y="709.6" font-size="35.8" text-anchor="end" style="font-kerning:none">10<tspan font-size="21.6" dy="-20.7">-12</tspan></text>
<text x="840.37" y="747.7" font-size="36.8" text-anchor="middle">0</text>
<text x="920.92" y="747.7" font-size="36.8" text-anchor="middle">2</text>
<text x="1001.46" y="747.7" font-size="36.8" text-anchor="middle">4</text>
<text x="1082.01" y="747.7" font-size="36.8" text-anchor="middle">6</text>
<text x="1162.55" y="747.7" font-size="36.8" text-anchor="middle">8</text>
<text x="1243.1" y="747.7" font-size="36.8" text-anchor="middle">10</text>
<text x="953.1" y="795.9" font-size="49.5" font-style="italic">V</text>
<text transform="translate(982.5 816.9) scale(0.885 1)" font-size="33" stroke="#141514" stroke-width="0.5">GS</text>
<text x="1025.2" y="796.3" font-size="50.8">(V)</text>
<text transform="translate(680.9 467.3) rotate(-90)" font-size="52" font-style="italic" stroke="#141514" stroke-width="0.7">I</text>
<text transform="translate(704.5 454.4) rotate(-90) scale(0.885 1)" font-size="33" stroke="#141514" stroke-width="0.5">DS</text>
<text transform="translate(680.5 413) rotate(-90)" font-size="50.6">(A)</text>
<text transform="translate(635.2 53) scale(1.075 1.0)" font-size="72">b</text>
<text transform="translate(814.9 85) scale(0.92 1)" font-size="31.5" stroke="#141514" stroke-width="0.5" font-style="italic">V</text>
<text transform="translate(832.9 91.6) scale(0.95 1)" font-size="19.4" stroke="#141514" stroke-width="0.5">G,bias</text>
<text transform="translate(897.3 85) scale(0.885 1)" font-size="31.5" stroke="#141514" stroke-width="0.5">= -1 V</text>
<text transform="translate(814.9 122.2) scale(0.92 1)" font-size="31.5" stroke="#141514" stroke-width="0.5" font-style="italic">V</text>
<text transform="translate(832.9 129) scale(0.95 1)" font-size="19.4" stroke="#141514" stroke-width="0.5">D,bias</text>
<text transform="translate(896.4 122.2) scale(0.885 1)" font-size="31.5" stroke="#141514" stroke-width="0.5">= 0 V</text>
<path d="M1053.9 335H1121.7" stroke="#111111" stroke-width="3.1"/>
<circle cx="1087.6" cy="335" r="10" fill="url(#g0)"/>
<text x="1128.4" y="344.6" font-size="27.7">0 s</text>
<path d="M1053.9 371.29H1121.7" stroke="#DC2A18" stroke-width="3.1"/>
<circle cx="1087.6" cy="371.29" r="10" fill="url(#g1)"/>
<text x="1128.4" y="380.89" font-size="27.7">1200 s</text>
<path d="M1053.9 407.58H1121.7" stroke="#3C2C9C" stroke-width="3.1"/>
<circle cx="1087.6" cy="407.58" r="10" fill="url(#g2)"/>
<text x="1128.4" y="417.18" font-size="27.7">2400 s</text>
<path d="M1053.9 443.87H1121.7" stroke="#00717F" stroke-width="3.1"/>
<circle cx="1087.6" cy="443.87" r="10" fill="url(#g3)"/>
<text x="1128.4" y="453.47" font-size="27.7">3600 s</text>
<path d="M1053.9 480.16H1121.7" stroke="#E00A8C" stroke-width="3.1"/>
<circle cx="1087.6" cy="480.16" r="10" fill="url(#g4)"/>
<text x="1128.4" y="489.76" font-size="27.7">7200 s</text>
<path d="M1053.9 516.45H1121.7" stroke="#957A26" stroke-width="3.1"/>
<circle cx="1087.6" cy="516.45" r="10" fill="url(#g5)"/>
<text x="1128.4" y="526.05" font-size="27.7">14400 s</text>
<path d="M1053.9 552.74H1121.7" stroke="#54816A" stroke-width="3.1"/>
<circle cx="1087.6" cy="552.74" r="10" fill="url(#g6)"/>
<text x="1128.4" y="562.34" font-size="27.7">21600 s</text>
<path d="M1053.9 589.03H1121.7" stroke="#8B5A46" stroke-width="3.1"/>
<circle cx="1087.6" cy="589.03" r="10" fill="url(#g7)"/>
<text x="1128.4" y="598.63" font-size="27.7">28800 s</text>
<path d="M1053.9 625.32H1121.7" stroke="#E60652" stroke-width="3.1"/>
<circle cx="1087.6" cy="625.32" r="10" fill="url(#g8)"/>
<text x="1128.4" y="634.92" font-size="27.7">36000 s</text>
<path d="M1053.9 661.61H1121.7" stroke="#2E2B5E" stroke-width="3.1"/>
<circle cx="1087.6" cy="661.61" r="10" fill="url(#g9)"/>
<text x="1128.4" y="671.21" font-size="27.7">43200 s</text>
<path d="M1019 229.6H919V221.8L903.4 234L919 246.2V238.5H1019Z" fill="#B5851E"/>
<text transform="translate(807.6 249.5) scale(0.637 1)" font-size="36.8" fill="#B5851E" stroke="#B5851E" stroke-width="0.7">43,200 s</text>
<text transform="translate(1028 250.8) scale(0.6 1)" font-size="41.5" fill="#B5851E" stroke="#B5851E" stroke-width="0.7">0</text>
<g fill="url(#g10)"><circle cx="1411.8" cy="447" r="8.2"/><circle cx="1426.5" cy="426.7" r="8.2"/><circle cx="1441.2" cy="403" r="8.2"/><circle cx="1484.8" cy="376.5" r="8.2"/><circle cx="1571.2" cy="352.5" r="8.2"/><circle cx="1657.9" cy="323.8" r="8.2"/><circle cx="1744.1" cy="304.2" r="8.2"/><circle cx="1830.8" cy="280.4" r="8.2"/><circle cx="1917.3" cy="253" r="8.2"/></g>
<path d="M1411.8 443.6V450.4M1406 443.6h11.6M1406 450.4h11.6M1426.5 422.9V430.5M1420.7 422.9h11.6M1420.7 430.5h11.6M1441.2 398V408M1435.4 398h11.6M1435.4 408h11.6M1484.8 367.7V385.3M1479 367.7h11.6M1479 385.3h11.6M1571.2 340.7V364.3M1565.4 340.7h11.6M1565.4 364.3h11.6M1657.9 312.9V334.7M1652.1 312.9h11.6M1652.1 334.7h11.6M1744.1 292.45V315.95M1738.3 292.45h11.6M1738.3 315.95h11.6M1830.8 266.4V294.4M1825 266.4h11.6M1825 294.4h11.6M1917.3 236V270M1911.5 236h11.6M1911.5 270h11.6" stroke="#2E2B5E" stroke-width="2.5" fill="none"/>
<g fill="url(#g11)"><circle cx="1411.8" cy="474.4" r="8.2"/><circle cx="1426.5" cy="478.8" r="8.2"/><circle cx="1441.2" cy="483.7" r="8.2"/><circle cx="1484.8" cy="489.1" r="8.2"/><circle cx="1571.2" cy="495.7" r="8.2"/><circle cx="1657.6" cy="501.4" r="8.2"/><circle cx="1744.5" cy="506.3" r="8.2"/><circle cx="1831.1" cy="510.7" r="8.2"/><circle cx="1917.5" cy="515.6" r="8.2"/></g>
<path d="M1411.8 471.4V477.4M1406 471.4h11.6M1406 477.4h11.6M1426.5 475.8V481.8M1420.7 475.8h11.6M1420.7 481.8h11.6M1441.2 480.5V486.9M1435.4 480.5h11.6M1435.4 486.9h11.6M1484.8 485.6V492.6M1479 485.6h11.6M1479 492.6h11.6M1571.2 492.2V499.2M1565.4 492.2h11.6M1565.4 499.2h11.6M1657.6 497.8V505M1651.8 497.8h11.6M1651.8 505h11.6M1744.5 496.3V516.3M1738.7 496.3h11.6M1738.7 516.3h11.6M1831.1 498.7V522.7M1825.3 498.7h11.6M1825.3 522.7h11.6M1917.5 504.6V526.6M1911.7 504.6h11.6M1911.7 526.6h11.6" stroke="#00717F" stroke-width="2.5" fill="none"/>
<path d="M1411.8 448L1416.05 440.39L1420.3 433.83L1424.54 427.99L1428.79 422.7L1433.04 417.8L1437.29 413.32L1441.54 409.3L1445.78 405.63L1450.03 402.21L1454.28 398.99L1458.53 395.96L1462.77 393.09L1467.02 390.37L1471.27 387.77L1475.52 385.28L1479.77 382.9L1484.01 380.61L1488.26 378.42L1492.51 376.31L1496.76 374.28L1501.01 372.33L1505.25 370.44L1509.5 368.61L1513.75 366.83L1518 365.1L1522.25 363.42L1526.49 361.77L1530.74 360.16L1534.99 358.58L1539.24 357.02L1543.48 355.5L1547.73 353.99L1551.98 352.5L1556.23 351.04L1560.48 349.58L1564.72 348.14L1568.97 346.71L1573.22 345.29L1577.47 343.89L1581.72 342.51L1585.96 341.14L1590.21 339.78L1594.46 338.45L1598.71 337.13L1602.96 335.82L1607.2 334.53L1611.45 333.26L1615.7 332L1619.95 330.75L1624.19 329.52L1628.44 328.3L1632.69 327.09L1636.94 325.9L1641.19 324.72L1645.43 323.55L1649.68 322.4L1653.93 321.26L1658.18 320.13L1662.43 319.01L1666.67 317.9L1670.92 316.8L1675.17 315.72L1679.42 314.64L1683.67 313.58L1687.91 312.52L1692.16 311.47L1696.41 310.44L1700.66 309.41L1704.91 308.39L1709.15 307.38L1713.4 306.38L1717.65 305.39L1721.9 304.41L1726.14 303.43L1730.39 302.46L1734.64 301.51L1738.89 300.56L1743.14 299.61L1747.38 298.68L1751.63 297.76L1755.88 296.85L1760.13 295.94L1764.38 295.05L1768.62 294.17L1772.87 293.29L1777.12 292.42L1781.37 291.56L1785.62 290.7L1789.86 289.84L1794.11 288.99L1798.36 288.14L1802.61 287.3L1806.85 286.45L1811.1 285.61L1815.35 284.77L1819.6 283.92L1823.85 283.08L1828.09 282.24L1832.34 281.39L1836.59 280.55L1840.84 279.71L1845.09 278.87L1849.33 278.03L1853.58 277.19L1857.83 276.35L1862.08 275.52L1866.33 274.68L1870.57 273.85L1874.82 273.02L1879.07 272.19L1883.32 271.37L1887.56 270.54L1891.81 269.71L1896.06 268.89L1900.31 268.07L1904.56 267.25L1908.8 266.43L1913.05 265.62L1917.3 264.8" stroke="#8E7A28" stroke-width="3.2" fill="none"/>
<path d="M1411.8 475.5L1416.05 476.23L1420.3 476.96L1424.55 477.68L1428.8 478.39L1433.05 479.12L1437.3 479.86L1441.55 480.56L1445.8 481.22L1450.05 481.86L1454.3 482.48L1458.55 483.09L1462.79 483.67L1467.04 484.25L1471.29 484.81L1475.54 485.35L1479.79 485.89L1484.04 486.41L1488.29 486.92L1492.54 487.42L1496.79 487.92L1501.04 488.4L1505.29 488.88L1509.54 489.36L1513.79 489.82L1518.04 490.28L1522.29 490.73L1526.54 491.18L1530.79 491.61L1535.04 492.05L1539.29 492.47L1543.54 492.89L1547.79 493.31L1552.04 493.71L1556.29 494.12L1560.54 494.51L1564.78 494.9L1569.03 495.29L1573.28 495.67L1577.53 496.04L1581.78 496.42L1586.03 496.79L1590.28 497.15L1594.53 497.51L1598.78 497.87L1603.03 498.23L1607.28 498.58L1611.53 498.93L1615.78 499.27L1620.03 499.61L1624.28 499.95L1628.53 500.28L1632.78 500.61L1637.03 500.94L1641.28 501.26L1645.53 501.59L1649.78 501.9L1654.03 502.22L1658.28 502.53L1662.53 502.84L1666.77 503.15L1671.02 503.47L1675.27 503.79L1679.52 504.11L1683.77 504.42L1688.02 504.74L1692.27 505.05L1696.52 505.35L1700.77 505.66L1705.02 505.95L1709.27 506.24L1713.52 506.52L1717.77 506.8L1722.02 507.06L1726.27 507.32L1730.52 507.57L1734.77 507.8L1739.02 508.03L1743.27 508.24L1747.52 508.44L1751.77 508.65L1756.02 508.85L1760.27 509.05L1764.52 509.24L1768.76 509.43L1773.01 509.62L1777.26 509.8L1781.51 509.98L1785.76 510.15L1790.01 510.32L1794.26 510.48L1798.51 510.63L1802.76 510.77L1807.01 510.91L1811.26 511.03L1815.51 511.15L1819.76 511.26L1824.01 511.36L1828.26 511.45L1832.51 511.53L1836.76 511.6L1841.01 511.67L1845.26 511.75L1849.51 511.82L1853.76 511.89L1858.01 511.95L1862.26 512.02L1866.51 512.08L1870.75 512.14L1875 512.19L1879.25 512.24L1883.5 512.29L1887.75 512.33L1892 512.37L1896.25 512.41L1900.5 512.44L1904.75 512.46L1909 512.48L1913.25 512.49L1917.5 512.5" stroke="#8E7A28" stroke-width="3.2" fill="none"/>
<rect x="1398.5" y="176.3" width="540.5" height="413.90000000000003" fill="none" stroke="#0d0d0d" stroke-width="2.8"/>
<path d="M1398.5 471.95H1939.0" stroke="#0d0d0d" stroke-width="2.6"/>
<path d="M1389.9 590.21H1398.5M1389.9 531.08H1398.5M1389.9 471.95H1398.5M1389.9 412.82H1398.5M1389.9 353.69H1398.5M1389.9 294.56H1398.5M1389.9 235.43H1398.5M1389.9 176.3H1398.5M1398.9 590.2V597.8M1518.9 590.2V597.8M1638.9 590.2V597.8M1758.9 590.2V597.8M1878.9 590.2V597.8" stroke="#0d0d0d" stroke-width="2.6" stroke-linecap="round" fill="none"/>
<path d="M1393.6 560.64H1398.5M1393.6 501.51H1398.5M1393.6 442.38H1398.5M1393.6 383.25H1398.5M1393.6 324.12H1398.5M1393.6 265H1398.5M1393.6 205.86H1398.5M1458.9 590.2V594.3M1578.9 590.2V594.3M1698.9 590.2V594.3M1818.9 590.2V594.3M1938.9 590.2V594.3" stroke="#0d0d0d" stroke-width="2.4" stroke-linecap="round" fill="none"/>
<text x="1384.3" y="598.31" font-size="26" text-anchor="end">-1.0</text>
<text x="1384.3" y="539.18" font-size="26" text-anchor="end">-0.5</text>
<text x="1384.3" y="480.05" font-size="26" text-anchor="end">0.0</text>
<text x="1384.3" y="420.92" font-size="26" text-anchor="end">0.5</text>
<text x="1384.3" y="361.79" font-size="26" text-anchor="end">1.0</text>
<text x="1384.3" y="302.66" font-size="26" text-anchor="end">1.5</text>
<text x="1384.3" y="243.53" font-size="26" text-anchor="end">2.0</text>
<text x="1384.3" y="184.4" font-size="26" text-anchor="end">2.5</text>
<text x="1398.3" y="626" font-size="26" text-anchor="middle">0</text>
<text x="1518.3" y="626" font-size="26" text-anchor="middle">10000</text>
<text x="1638.3" y="626" font-size="26" text-anchor="middle">20000</text>
<text x="1758.3" y="626" font-size="26" text-anchor="middle">30000</text>
<text x="1878.3" y="626" font-size="26" text-anchor="middle">40000</text>
<text x="1505.4" y="684.4" font-size="48.4">Stress Time (s)</text>
<text transform="translate(1275.5 53.1) scale(1.045 1.03)" font-size="73">c</text>
<circle cx="1419.6" cy="197.7" r="8.3" fill="url(#g10)"/><circle cx="1419.6" cy="226.1" r="8.3" fill="url(#g11)"/>
<text x="1451" y="205.2" font-size="21.2">PBS</text><text x="1451" y="233.8" font-size="21.2">NBS</text>
<text transform="translate(1310.4 487.8) rotate(-90) scale(1.125 1)" font-size="45" font-weight="normal" font-family="'DejaVu Sans', sans-serif" stroke="#141514" stroke-width="0.8">△</text>
<text transform="translate(1313.1 444.4) rotate(-90)" font-size="49.5" font-style="italic">V</text>
<text transform="translate(1334.6 418.6) rotate(-90) scale(0.93 1)" font-size="32.5" stroke="#141514" stroke-width="0.4">TH</text>
<text transform="translate(1313.3 368.3) rotate(-90)" font-size="51.9">(V)</text>
</g>
</svg>
</body></html>
